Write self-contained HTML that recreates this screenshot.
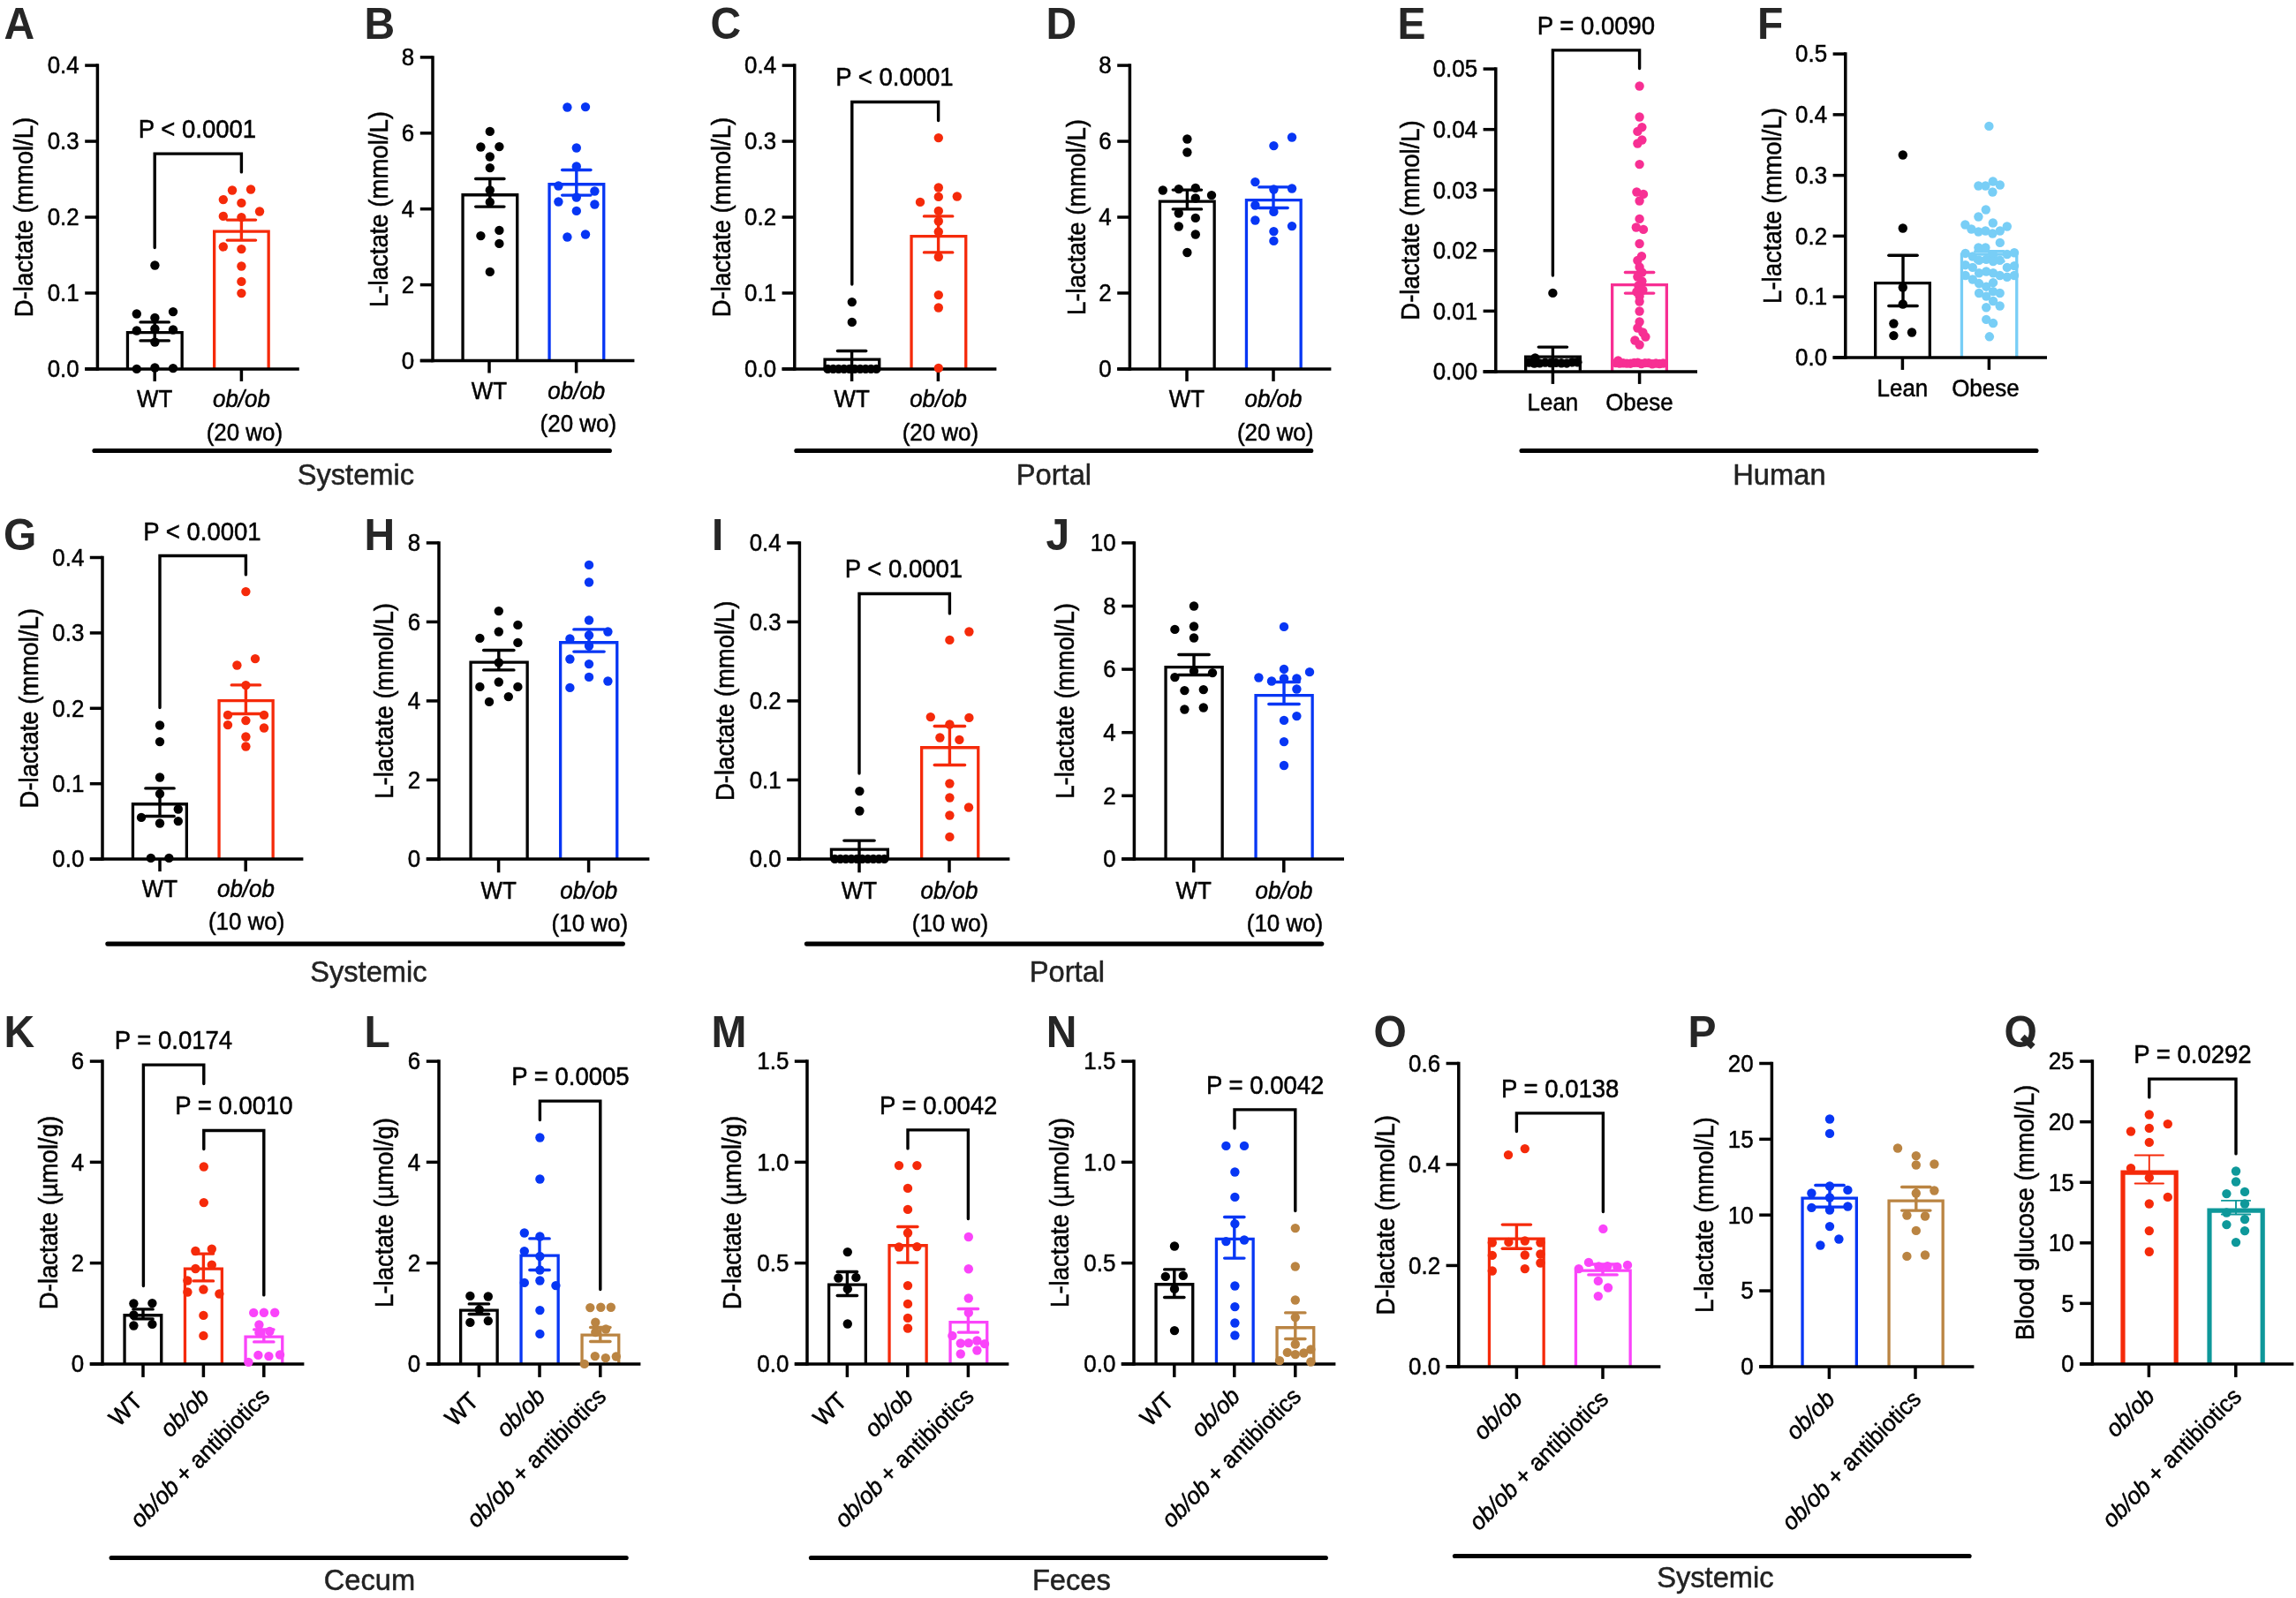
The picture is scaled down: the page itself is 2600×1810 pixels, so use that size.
<!DOCTYPE html>
<html><head><meta charset="utf-8"><title>Figure</title>
<style>
html,body{margin:0;padding:0;background:#fff}
svg{display:block;will-change:transform;opacity:0.999}
text{font-family:"Liberation Sans",sans-serif}
</style></head>
<body>
<svg xmlns="http://www.w3.org/2000/svg" width="2600" height="1810" viewBox="0 0 2600 1810">
<rect width="2600" height="1810" fill="#fff"/>
<g transform="translate(0.4 0.5)">
<path d="M144.05 417.4V376.05H205.75V417.4" fill="none" stroke="#000" stroke-width="3.3" stroke-linejoin="miter"/>
<path d="M242.25 417.4V261.65H303.75V417.4" fill="none" stroke="#F52A0A" stroke-width="3.3" stroke-linejoin="miter"/>
<line x1="110" y1="71.85" x2="110" y2="419.15" stroke="#000" stroke-width="3.5" stroke-linecap="butt"/>
<line x1="95.8" y1="417.4" x2="338.4" y2="417.4" stroke="#000" stroke-width="3.5" stroke-linecap="butt"/>
<line x1="95.8" y1="73.6" x2="110" y2="73.6" stroke="#000" stroke-width="3.5" stroke-linecap="butt"/>
<text transform="translate(89.3 82.9) scale(0.95 1)" font-size="27.3" text-anchor="end" fill="#000" stroke="#000" stroke-width="0.5">0.4</text>
<line x1="95.8" y1="159.55" x2="110" y2="159.55" stroke="#000" stroke-width="3.5" stroke-linecap="butt"/>
<text transform="translate(89.3 168.85) scale(0.95 1)" font-size="27.3" text-anchor="end" fill="#000" stroke="#000" stroke-width="0.5">0.3</text>
<line x1="95.8" y1="245.5" x2="110" y2="245.5" stroke="#000" stroke-width="3.5" stroke-linecap="butt"/>
<text transform="translate(89.3 254.8) scale(0.95 1)" font-size="27.3" text-anchor="end" fill="#000" stroke="#000" stroke-width="0.5">0.2</text>
<line x1="95.8" y1="331.45" x2="110" y2="331.45" stroke="#000" stroke-width="3.5" stroke-linecap="butt"/>
<text transform="translate(89.3 340.75) scale(0.95 1)" font-size="27.3" text-anchor="end" fill="#000" stroke="#000" stroke-width="0.5">0.1</text>
<line x1="95.8" y1="417.4" x2="110" y2="417.4" stroke="#000" stroke-width="3.5" stroke-linecap="butt"/>
<text transform="translate(89.3 426.7) scale(0.95 1)" font-size="27.3" text-anchor="end" fill="#000" stroke="#000" stroke-width="0.5">0.0</text>
<line x1="174.8" y1="417.4" x2="174.8" y2="431.4" stroke="#000" stroke-width="3.5" stroke-linecap="butt"/>
<line x1="273" y1="417.4" x2="273" y2="431.4" stroke="#000" stroke-width="3.5" stroke-linecap="butt"/>
<line x1="174.8" y1="364.4" x2="174.8" y2="385.4" stroke="#000" stroke-width="3.4" stroke-linecap="butt"/>
<line x1="158.65" y1="364.4" x2="190.95" y2="364.4" stroke="#000" stroke-width="3.4" stroke-linecap="round"/>
<line x1="158.65" y1="385.4" x2="190.95" y2="385.4" stroke="#000" stroke-width="3.4" stroke-linecap="round"/>
<line x1="273" y1="248.6" x2="273" y2="271.6" stroke="#F52A0A" stroke-width="3.4" stroke-linecap="butt"/>
<line x1="256.85" y1="248.6" x2="289.15" y2="248.6" stroke="#F52A0A" stroke-width="3.4" stroke-linecap="round"/>
<line x1="256.85" y1="271.6" x2="289.15" y2="271.6" stroke="#F52A0A" stroke-width="3.4" stroke-linecap="round"/>
<circle cx="175" cy="300" r="5.2" fill="#000"/>
<circle cx="154.4" cy="355" r="5.2" fill="#000"/>
<circle cx="195.6" cy="352.6" r="5.2" fill="#000"/>
<circle cx="175" cy="359.4" r="5.2" fill="#000"/>
<circle cx="154.4" cy="374" r="5.2" fill="#000"/>
<circle cx="175" cy="372" r="5.2" fill="#000"/>
<circle cx="195.6" cy="373" r="5.2" fill="#000"/>
<circle cx="175" cy="387" r="5.2" fill="#000"/>
<circle cx="154.4" cy="417.4" r="5.2" fill="#000"/>
<circle cx="175" cy="416" r="5.2" fill="#000"/>
<circle cx="195.6" cy="416.6" r="5.2" fill="#000"/>
<circle cx="262.6" cy="215" r="5.2" fill="#F52A0A"/>
<circle cx="283.6" cy="214" r="5.2" fill="#F52A0A"/>
<circle cx="252.4" cy="225.6" r="5.2" fill="#F52A0A"/>
<circle cx="273" cy="229.4" r="5.2" fill="#F52A0A"/>
<circle cx="293.6" cy="239" r="5.2" fill="#F52A0A"/>
<circle cx="252.4" cy="244.4" r="5.2" fill="#F52A0A"/>
<circle cx="273" cy="245.6" r="5.2" fill="#F52A0A"/>
<circle cx="252.4" cy="279" r="5.2" fill="#F52A0A"/>
<circle cx="273" cy="281.6" r="5.2" fill="#F52A0A"/>
<circle cx="273" cy="301" r="5.2" fill="#F52A0A"/>
<circle cx="273" cy="318.4" r="5.2" fill="#F52A0A"/>
<circle cx="273" cy="331.6" r="5.2" fill="#F52A0A"/>
<path d="M174.8 280V173.6H273V194.4" fill="none" stroke="#000" stroke-width="3.4" stroke-linejoin="miter" stroke-linecap="round"/>
<text transform="translate(223 155) scale(0.95 1)" font-size="29" text-anchor="middle" fill="#000" stroke="#000" stroke-width="0.5">P &lt; 0.0001</text>
<text transform="translate(37 245.5) rotate(-90) scale(0.95 1)" font-size="29" text-anchor="middle" fill="#000" stroke="#000" stroke-width="0.5">D-lactate (mmol/L)</text>
<text transform="translate(4 43.7) scale(0.96 1)" font-size="50" text-anchor="start" fill="#262626" font-weight="bold">A</text>
<text transform="translate(174.8 460.9) scale(0.95 1)" font-size="27.3" text-anchor="middle" fill="#000" stroke="#000" stroke-width="0.5">WT</text>
<text transform="translate(273 460.9) scale(0.95 1)" font-size="27.3" text-anchor="middle" fill="#000" stroke="#000" stroke-width="0.5" font-style="italic">ob/ob</text>
<text transform="translate(276.5 498.2) scale(0.95 1)" font-size="27.3" text-anchor="middle" fill="#000" stroke="#000" stroke-width="0.5">(20 wo)</text>
<path d="M523.65 408V220.25H585.35V408" fill="none" stroke="#000" stroke-width="3.3" stroke-linejoin="miter"/>
<path d="M621.65 408V208.25H683.35V408" fill="none" stroke="#0736F4" stroke-width="3.3" stroke-linejoin="miter"/>
<line x1="489.6" y1="62.65" x2="489.6" y2="409.75" stroke="#000" stroke-width="3.5" stroke-linecap="butt"/>
<line x1="475.4" y1="408" x2="718" y2="408" stroke="#000" stroke-width="3.5" stroke-linecap="butt"/>
<line x1="475.4" y1="64.4" x2="489.6" y2="64.4" stroke="#000" stroke-width="3.5" stroke-linecap="butt"/>
<text transform="translate(468.9 73.7) scale(0.95 1)" font-size="27.3" text-anchor="end" fill="#000" stroke="#000" stroke-width="0.5">8</text>
<line x1="475.4" y1="150.3" x2="489.6" y2="150.3" stroke="#000" stroke-width="3.5" stroke-linecap="butt"/>
<text transform="translate(468.9 159.6) scale(0.95 1)" font-size="27.3" text-anchor="end" fill="#000" stroke="#000" stroke-width="0.5">6</text>
<line x1="475.4" y1="236.2" x2="489.6" y2="236.2" stroke="#000" stroke-width="3.5" stroke-linecap="butt"/>
<text transform="translate(468.9 245.5) scale(0.95 1)" font-size="27.3" text-anchor="end" fill="#000" stroke="#000" stroke-width="0.5">4</text>
<line x1="475.4" y1="322.1" x2="489.6" y2="322.1" stroke="#000" stroke-width="3.5" stroke-linecap="butt"/>
<text transform="translate(468.9 331.4) scale(0.95 1)" font-size="27.3" text-anchor="end" fill="#000" stroke="#000" stroke-width="0.5">2</text>
<line x1="475.4" y1="408" x2="489.6" y2="408" stroke="#000" stroke-width="3.5" stroke-linecap="butt"/>
<text transform="translate(468.9 417.3) scale(0.95 1)" font-size="27.3" text-anchor="end" fill="#000" stroke="#000" stroke-width="0.5">0</text>
<line x1="553.6" y1="408" x2="553.6" y2="422" stroke="#000" stroke-width="3.5" stroke-linecap="butt"/>
<line x1="652.2" y1="408" x2="652.2" y2="422" stroke="#000" stroke-width="3.5" stroke-linecap="butt"/>
<line x1="554.4" y1="202" x2="554.4" y2="233.6" stroke="#000" stroke-width="3.4" stroke-linecap="butt"/>
<line x1="538.25" y1="202" x2="570.55" y2="202" stroke="#000" stroke-width="3.4" stroke-linecap="round"/>
<line x1="538.25" y1="233.6" x2="570.55" y2="233.6" stroke="#000" stroke-width="3.4" stroke-linecap="round"/>
<line x1="652.4" y1="192" x2="652.4" y2="220.6" stroke="#0736F4" stroke-width="3.4" stroke-linecap="butt"/>
<line x1="636.25" y1="192" x2="668.55" y2="192" stroke="#0736F4" stroke-width="3.4" stroke-linecap="round"/>
<line x1="636.25" y1="220.6" x2="668.55" y2="220.6" stroke="#0736F4" stroke-width="3.4" stroke-linecap="round"/>
<circle cx="554.4" cy="148.4" r="5.2" fill="#000"/>
<circle cx="544" cy="166" r="5.2" fill="#000"/>
<circle cx="565" cy="165.6" r="5.2" fill="#000"/>
<circle cx="554.4" cy="177" r="5.2" fill="#000"/>
<circle cx="554.4" cy="189.6" r="5.2" fill="#000"/>
<circle cx="554.4" cy="215" r="5.2" fill="#000"/>
<circle cx="554.4" cy="228.4" r="5.2" fill="#000"/>
<circle cx="565" cy="260.4" r="5.2" fill="#000"/>
<circle cx="544" cy="266.6" r="5.2" fill="#000"/>
<circle cx="565" cy="275.4" r="5.2" fill="#000"/>
<circle cx="554.4" cy="307.4" r="5.2" fill="#000"/>
<circle cx="642" cy="121" r="5.2" fill="#0736F4"/>
<circle cx="662.6" cy="120.6" r="5.2" fill="#0736F4"/>
<circle cx="652.4" cy="167" r="5.2" fill="#0736F4"/>
<circle cx="652.4" cy="188" r="5.2" fill="#0736F4"/>
<circle cx="632" cy="210" r="5.2" fill="#0736F4"/>
<circle cx="673" cy="216" r="5.2" fill="#0736F4"/>
<circle cx="652.4" cy="223" r="5.2" fill="#0736F4"/>
<circle cx="632" cy="228" r="5.2" fill="#0736F4"/>
<circle cx="673" cy="231" r="5.2" fill="#0736F4"/>
<circle cx="652.4" cy="238.4" r="5.2" fill="#0736F4"/>
<circle cx="662.6" cy="265" r="5.2" fill="#0736F4"/>
<circle cx="642" cy="268" r="5.2" fill="#0736F4"/>
<text transform="translate(439 236.5) rotate(-90) scale(0.95 1)" font-size="29" text-anchor="middle" fill="#000" stroke="#000" stroke-width="0.5">L-lactate (mmol/L)</text>
<text transform="translate(412 43.7) scale(0.96 1)" font-size="50" text-anchor="start" fill="#262626" font-weight="bold">B</text>
<text transform="translate(553.6 451.5) scale(0.95 1)" font-size="27.3" text-anchor="middle" fill="#000" stroke="#000" stroke-width="0.5">WT</text>
<text transform="translate(652.4 451.5) scale(0.95 1)" font-size="27.3" text-anchor="middle" fill="#000" stroke="#000" stroke-width="0.5" font-style="italic">ob/ob</text>
<text transform="translate(654.4 488.8) scale(0.95 1)" font-size="27.3" text-anchor="middle" fill="#000" stroke="#000" stroke-width="0.5">(20 wo)</text>
<line x1="106.5" y1="510" x2="690" y2="510" stroke="#000" stroke-width="5.1" stroke-linecap="round"/>
<text transform="translate(402.5 548.9) scale(0.99 1)" font-size="33" text-anchor="middle" fill="#222" stroke="#222" stroke-width="0.5">Systemic</text>
<path d="M933.65 417.4V406.65H995.35V417.4" fill="none" stroke="#000" stroke-width="3.3" stroke-linejoin="miter"/>
<path d="M1031.65 417.4V267.15H1093.35V417.4" fill="none" stroke="#F52A0A" stroke-width="3.3" stroke-linejoin="miter"/>
<line x1="899.4" y1="71.85" x2="899.4" y2="419.15" stroke="#000" stroke-width="3.5" stroke-linecap="butt"/>
<line x1="885.2" y1="417.4" x2="1128" y2="417.4" stroke="#000" stroke-width="3.5" stroke-linecap="butt"/>
<line x1="885.2" y1="73.6" x2="899.4" y2="73.6" stroke="#000" stroke-width="3.5" stroke-linecap="butt"/>
<text transform="translate(878.7 82.9) scale(0.95 1)" font-size="27.3" text-anchor="end" fill="#000" stroke="#000" stroke-width="0.5">0.4</text>
<line x1="885.2" y1="159.55" x2="899.4" y2="159.55" stroke="#000" stroke-width="3.5" stroke-linecap="butt"/>
<text transform="translate(878.7 168.85) scale(0.95 1)" font-size="27.3" text-anchor="end" fill="#000" stroke="#000" stroke-width="0.5">0.3</text>
<line x1="885.2" y1="245.5" x2="899.4" y2="245.5" stroke="#000" stroke-width="3.5" stroke-linecap="butt"/>
<text transform="translate(878.7 254.8) scale(0.95 1)" font-size="27.3" text-anchor="end" fill="#000" stroke="#000" stroke-width="0.5">0.2</text>
<line x1="885.2" y1="331.45" x2="899.4" y2="331.45" stroke="#000" stroke-width="3.5" stroke-linecap="butt"/>
<text transform="translate(878.7 340.75) scale(0.95 1)" font-size="27.3" text-anchor="end" fill="#000" stroke="#000" stroke-width="0.5">0.1</text>
<line x1="885.2" y1="417.4" x2="899.4" y2="417.4" stroke="#000" stroke-width="3.5" stroke-linecap="butt"/>
<text transform="translate(878.7 426.7) scale(0.95 1)" font-size="27.3" text-anchor="end" fill="#000" stroke="#000" stroke-width="0.5">0.0</text>
<line x1="964.2" y1="417.4" x2="964.2" y2="431.4" stroke="#000" stroke-width="3.5" stroke-linecap="butt"/>
<line x1="1062" y1="417.4" x2="1062" y2="431.4" stroke="#000" stroke-width="3.5" stroke-linecap="butt"/>
<line x1="964.2" y1="397" x2="964.2" y2="417.4" stroke="#000" stroke-width="3.4" stroke-linecap="butt"/>
<line x1="948.05" y1="397" x2="980.35" y2="397" stroke="#000" stroke-width="3.4" stroke-linecap="round"/>
<line x1="1062.2" y1="244.4" x2="1062.2" y2="285.4" stroke="#F52A0A" stroke-width="3.4" stroke-linecap="butt"/>
<line x1="1046.05" y1="244.4" x2="1078.35" y2="244.4" stroke="#F52A0A" stroke-width="3.4" stroke-linecap="round"/>
<line x1="1046.05" y1="285.4" x2="1078.35" y2="285.4" stroke="#F52A0A" stroke-width="3.4" stroke-linecap="round"/>
<circle cx="964.4" cy="341.6" r="5.2" fill="#000"/>
<circle cx="964.4" cy="364.4" r="5.2" fill="#000"/>
<circle cx="937" cy="417.4" r="5.2" fill="#000"/>
<circle cx="943.11" cy="417.4" r="5.2" fill="#000"/>
<circle cx="949.22" cy="417.4" r="5.2" fill="#000"/>
<circle cx="955.33" cy="417.4" r="5.2" fill="#000"/>
<circle cx="961.44" cy="417.4" r="5.2" fill="#000"/>
<circle cx="967.56" cy="417.4" r="5.2" fill="#000"/>
<circle cx="973.67" cy="417.4" r="5.2" fill="#000"/>
<circle cx="979.78" cy="417.4" r="5.2" fill="#000"/>
<circle cx="985.89" cy="417.4" r="5.2" fill="#000"/>
<circle cx="992" cy="417.4" r="5.2" fill="#000"/>
<circle cx="1062.4" cy="155.6" r="5.2" fill="#F52A0A"/>
<circle cx="1062.4" cy="212" r="5.2" fill="#F52A0A"/>
<circle cx="1062.4" cy="222.4" r="5.2" fill="#F52A0A"/>
<circle cx="1083.4" cy="222" r="5.2" fill="#F52A0A"/>
<circle cx="1041.6" cy="228.4" r="5.2" fill="#F52A0A"/>
<circle cx="1062.4" cy="238.4" r="5.2" fill="#F52A0A"/>
<circle cx="1062.4" cy="250" r="5.2" fill="#F52A0A"/>
<circle cx="1062.4" cy="262" r="5.2" fill="#F52A0A"/>
<circle cx="1062.4" cy="290.5" r="5.2" fill="#F52A0A"/>
<circle cx="1062.4" cy="333.6" r="5.2" fill="#F52A0A"/>
<circle cx="1062.4" cy="348" r="5.2" fill="#F52A0A"/>
<circle cx="1062.4" cy="416.4" r="5.2" fill="#F52A0A"/>
<path d="M964.4 321.6V115H1062.2V136" fill="none" stroke="#000" stroke-width="3.4" stroke-linejoin="miter" stroke-linecap="round"/>
<text transform="translate(1012.5 96.4) scale(0.95 1)" font-size="29" text-anchor="middle" fill="#000" stroke="#000" stroke-width="0.5">P &lt; 0.0001</text>
<text transform="translate(826.5 245.5) rotate(-90) scale(0.95 1)" font-size="29" text-anchor="middle" fill="#000" stroke="#000" stroke-width="0.5">D-lactate (mmol/L)</text>
<text transform="translate(804 43.7) scale(0.96 1)" font-size="50" text-anchor="start" fill="#262626" font-weight="bold">C</text>
<text transform="translate(964.2 460.9) scale(0.95 1)" font-size="27.3" text-anchor="middle" fill="#000" stroke="#000" stroke-width="0.5">WT</text>
<text transform="translate(1062.2 460.9) scale(0.95 1)" font-size="27.3" text-anchor="middle" fill="#000" stroke="#000" stroke-width="0.5" font-style="italic">ob/ob</text>
<text transform="translate(1064.5 498.2) scale(0.95 1)" font-size="27.3" text-anchor="middle" fill="#000" stroke="#000" stroke-width="0.5">(20 wo)</text>
<path d="M1313.05 417.4V227.65H1374.75V417.4" fill="none" stroke="#000" stroke-width="3.3" stroke-linejoin="miter"/>
<path d="M1411.05 417.4V226.05H1472.75V417.4" fill="none" stroke="#0736F4" stroke-width="3.3" stroke-linejoin="miter"/>
<line x1="1279" y1="71.85" x2="1279" y2="419.15" stroke="#000" stroke-width="3.5" stroke-linecap="butt"/>
<line x1="1264.8" y1="417.4" x2="1507" y2="417.4" stroke="#000" stroke-width="3.5" stroke-linecap="butt"/>
<line x1="1264.8" y1="73.6" x2="1279" y2="73.6" stroke="#000" stroke-width="3.5" stroke-linecap="butt"/>
<text transform="translate(1258.3 82.9) scale(0.95 1)" font-size="27.3" text-anchor="end" fill="#000" stroke="#000" stroke-width="0.5">8</text>
<line x1="1264.8" y1="159.55" x2="1279" y2="159.55" stroke="#000" stroke-width="3.5" stroke-linecap="butt"/>
<text transform="translate(1258.3 168.85) scale(0.95 1)" font-size="27.3" text-anchor="end" fill="#000" stroke="#000" stroke-width="0.5">6</text>
<line x1="1264.8" y1="245.5" x2="1279" y2="245.5" stroke="#000" stroke-width="3.5" stroke-linecap="butt"/>
<text transform="translate(1258.3 254.8) scale(0.95 1)" font-size="27.3" text-anchor="end" fill="#000" stroke="#000" stroke-width="0.5">4</text>
<line x1="1264.8" y1="331.45" x2="1279" y2="331.45" stroke="#000" stroke-width="3.5" stroke-linecap="butt"/>
<text transform="translate(1258.3 340.75) scale(0.95 1)" font-size="27.3" text-anchor="end" fill="#000" stroke="#000" stroke-width="0.5">2</text>
<line x1="1264.8" y1="417.4" x2="1279" y2="417.4" stroke="#000" stroke-width="3.5" stroke-linecap="butt"/>
<text transform="translate(1258.3 426.7) scale(0.95 1)" font-size="27.3" text-anchor="end" fill="#000" stroke="#000" stroke-width="0.5">0</text>
<line x1="1343.6" y1="417.4" x2="1343.6" y2="431.4" stroke="#000" stroke-width="3.5" stroke-linecap="butt"/>
<line x1="1441.6" y1="417.4" x2="1441.6" y2="431.4" stroke="#000" stroke-width="3.5" stroke-linecap="butt"/>
<line x1="1344" y1="214.6" x2="1344" y2="236.4" stroke="#000" stroke-width="3.4" stroke-linecap="butt"/>
<line x1="1327.85" y1="214.6" x2="1360.15" y2="214.6" stroke="#000" stroke-width="3.4" stroke-linecap="round"/>
<line x1="1327.85" y1="236.4" x2="1360.15" y2="236.4" stroke="#000" stroke-width="3.4" stroke-linecap="round"/>
<line x1="1441.6" y1="211.4" x2="1441.6" y2="235" stroke="#0736F4" stroke-width="3.4" stroke-linecap="butt"/>
<line x1="1425.45" y1="211.4" x2="1457.75" y2="211.4" stroke="#0736F4" stroke-width="3.4" stroke-linecap="round"/>
<line x1="1425.45" y1="235" x2="1457.75" y2="235" stroke="#0736F4" stroke-width="3.4" stroke-linecap="round"/>
<circle cx="1344" cy="157" r="5.2" fill="#000"/>
<circle cx="1344" cy="172" r="5.2" fill="#000"/>
<circle cx="1316.4" cy="215" r="5.2" fill="#000"/>
<circle cx="1334.4" cy="213.6" r="5.2" fill="#000"/>
<circle cx="1353.4" cy="212.4" r="5.2" fill="#000"/>
<circle cx="1371.6" cy="220.6" r="5.2" fill="#000"/>
<circle cx="1353.4" cy="224" r="5.2" fill="#000"/>
<circle cx="1334.4" cy="241" r="5.2" fill="#000"/>
<circle cx="1353.4" cy="246.4" r="5.2" fill="#000"/>
<circle cx="1334.4" cy="256" r="5.2" fill="#000"/>
<circle cx="1353.4" cy="265" r="5.2" fill="#000"/>
<circle cx="1344" cy="285.5" r="5.2" fill="#000"/>
<circle cx="1462.6" cy="155" r="5.2" fill="#0736F4"/>
<circle cx="1442" cy="164.6" r="5.2" fill="#0736F4"/>
<circle cx="1421" cy="205.6" r="5.2" fill="#0736F4"/>
<circle cx="1442" cy="214" r="5.2" fill="#0736F4"/>
<circle cx="1462.6" cy="213" r="5.2" fill="#0736F4"/>
<circle cx="1421" cy="232" r="5.2" fill="#0736F4"/>
<circle cx="1442" cy="239.4" r="5.2" fill="#0736F4"/>
<circle cx="1421" cy="249" r="5.2" fill="#0736F4"/>
<circle cx="1462.6" cy="255.6" r="5.2" fill="#0736F4"/>
<circle cx="1442" cy="261.6" r="5.2" fill="#0736F4"/>
<circle cx="1442" cy="272.4" r="5.2" fill="#0736F4"/>
<text transform="translate(1229 245.5) rotate(-90) scale(0.95 1)" font-size="29" text-anchor="middle" fill="#000" stroke="#000" stroke-width="0.5">L-lactate (mmol/L)</text>
<text transform="translate(1184 43.7) scale(0.96 1)" font-size="50" text-anchor="start" fill="#262626" font-weight="bold">D</text>
<text transform="translate(1343.6 460.9) scale(0.95 1)" font-size="27.3" text-anchor="middle" fill="#000" stroke="#000" stroke-width="0.5">WT</text>
<text transform="translate(1441.6 460.9) scale(0.95 1)" font-size="27.3" text-anchor="middle" fill="#000" stroke="#000" stroke-width="0.5" font-style="italic">ob/ob</text>
<text transform="translate(1443.8 498.2) scale(0.95 1)" font-size="27.3" text-anchor="middle" fill="#000" stroke="#000" stroke-width="0.5">(20 wo)</text>
<line x1="901.4" y1="510" x2="1484.4" y2="510" stroke="#000" stroke-width="5.1" stroke-linecap="round"/>
<text transform="translate(1193 548.9) scale(0.99 1)" font-size="33" text-anchor="middle" fill="#222" stroke="#222" stroke-width="0.5">Portal</text>
<path d="M1727.25 420.4V403.65H1788.95V420.4" fill="none" stroke="#000" stroke-width="3.3" stroke-linejoin="miter"/>
<path d="M1825.25 420.4V322.05H1886.95V420.4" fill="none" stroke="#F72F93" stroke-width="3.3" stroke-linejoin="miter"/>
<line x1="1693.4" y1="75.85" x2="1693.4" y2="422.15" stroke="#000" stroke-width="3.5" stroke-linecap="butt"/>
<line x1="1679.2" y1="420.4" x2="1921.6" y2="420.4" stroke="#000" stroke-width="3.5" stroke-linecap="butt"/>
<line x1="1679.2" y1="77.6" x2="1693.4" y2="77.6" stroke="#000" stroke-width="3.5" stroke-linecap="butt"/>
<text transform="translate(1672.7 86.9) scale(0.95 1)" font-size="27.3" text-anchor="end" fill="#000" stroke="#000" stroke-width="0.5">0.05</text>
<line x1="1679.2" y1="146.16" x2="1693.4" y2="146.16" stroke="#000" stroke-width="3.5" stroke-linecap="butt"/>
<text transform="translate(1672.7 155.46) scale(0.95 1)" font-size="27.3" text-anchor="end" fill="#000" stroke="#000" stroke-width="0.5">0.04</text>
<line x1="1679.2" y1="214.72" x2="1693.4" y2="214.72" stroke="#000" stroke-width="3.5" stroke-linecap="butt"/>
<text transform="translate(1672.7 224.02) scale(0.95 1)" font-size="27.3" text-anchor="end" fill="#000" stroke="#000" stroke-width="0.5">0.03</text>
<line x1="1679.2" y1="283.28" x2="1693.4" y2="283.28" stroke="#000" stroke-width="3.5" stroke-linecap="butt"/>
<text transform="translate(1672.7 292.58) scale(0.95 1)" font-size="27.3" text-anchor="end" fill="#000" stroke="#000" stroke-width="0.5">0.02</text>
<line x1="1679.2" y1="351.84" x2="1693.4" y2="351.84" stroke="#000" stroke-width="3.5" stroke-linecap="butt"/>
<text transform="translate(1672.7 361.14) scale(0.95 1)" font-size="27.3" text-anchor="end" fill="#000" stroke="#000" stroke-width="0.5">0.01</text>
<line x1="1679.2" y1="420.4" x2="1693.4" y2="420.4" stroke="#000" stroke-width="3.5" stroke-linecap="butt"/>
<text transform="translate(1672.7 429.7) scale(0.95 1)" font-size="27.3" text-anchor="end" fill="#000" stroke="#000" stroke-width="0.5">0.00</text>
<line x1="1758" y1="420.4" x2="1758" y2="434.4" stroke="#000" stroke-width="3.5" stroke-linecap="butt"/>
<line x1="1856.2" y1="420.4" x2="1856.2" y2="434.4" stroke="#000" stroke-width="3.5" stroke-linecap="butt"/>
<line x1="1758" y1="392.6" x2="1758" y2="420.4" stroke="#000" stroke-width="3.4" stroke-linecap="butt"/>
<line x1="1741.85" y1="392.6" x2="1774.15" y2="392.6" stroke="#000" stroke-width="3.4" stroke-linecap="round"/>
<line x1="1856.2" y1="308" x2="1856.2" y2="331.6" stroke="#F72F93" stroke-width="3.4" stroke-linecap="butt"/>
<line x1="1840.05" y1="308" x2="1872.35" y2="308" stroke="#F72F93" stroke-width="3.4" stroke-linecap="round"/>
<line x1="1840.05" y1="331.6" x2="1872.35" y2="331.6" stroke="#F72F93" stroke-width="3.4" stroke-linecap="round"/>
<circle cx="1758" cy="331.4" r="5.2" fill="#000"/>
<circle cx="1738" cy="405" r="5.2" fill="#000"/>
<circle cx="1731" cy="409.95" r="5.2" fill="#000"/>
<circle cx="1737.11" cy="411.02" r="5.2" fill="#000"/>
<circle cx="1743.22" cy="410.9" r="5.2" fill="#000"/>
<circle cx="1749.33" cy="410.13" r="5.2" fill="#000"/>
<circle cx="1755.44" cy="410.49" r="5.2" fill="#000"/>
<circle cx="1761.56" cy="410.42" r="5.2" fill="#000"/>
<circle cx="1767.67" cy="410.73" r="5.2" fill="#000"/>
<circle cx="1773.78" cy="410.93" r="5.2" fill="#000"/>
<circle cx="1779.89" cy="409.89" r="5.2" fill="#000"/>
<circle cx="1786" cy="409.79" r="5.2" fill="#000"/>
<circle cx="1856.2" cy="97" r="5.2" fill="#F72F93"/>
<circle cx="1856.2" cy="132" r="5.2" fill="#F72F93"/>
<circle cx="1859" cy="143.6" r="5.2" fill="#F72F93"/>
<circle cx="1854" cy="148.4" r="5.2" fill="#F72F93"/>
<circle cx="1859" cy="158" r="5.2" fill="#F72F93"/>
<circle cx="1854" cy="162" r="5.2" fill="#F72F93"/>
<circle cx="1856.2" cy="185.6" r="5.2" fill="#F72F93"/>
<circle cx="1853" cy="217" r="5.2" fill="#F72F93"/>
<circle cx="1860.6" cy="219.4" r="5.2" fill="#F72F93"/>
<circle cx="1856.2" cy="227" r="5.2" fill="#F72F93"/>
<circle cx="1856.2" cy="247.4" r="5.2" fill="#F72F93"/>
<circle cx="1852.4" cy="257" r="5.2" fill="#F72F93"/>
<circle cx="1860.6" cy="259.4" r="5.2" fill="#F72F93"/>
<circle cx="1856.2" cy="275.5" r="5.2" fill="#F72F93"/>
<circle cx="1858.6" cy="289.6" r="5.2" fill="#F72F93"/>
<circle cx="1854" cy="294.5" r="5.2" fill="#F72F93"/>
<circle cx="1856.2" cy="302" r="5.2" fill="#F72F93"/>
<circle cx="1859" cy="308" r="5.2" fill="#F72F93"/>
<circle cx="1854" cy="313" r="5.2" fill="#F72F93"/>
<circle cx="1859" cy="318" r="5.2" fill="#F72F93"/>
<circle cx="1855" cy="323" r="5.2" fill="#F72F93"/>
<circle cx="1860" cy="328" r="5.2" fill="#F72F93"/>
<circle cx="1853" cy="330" r="5.2" fill="#F72F93"/>
<circle cx="1856.2" cy="335" r="5.2" fill="#F72F93"/>
<circle cx="1856.2" cy="341" r="5.2" fill="#F72F93"/>
<circle cx="1856.2" cy="352" r="5.2" fill="#F72F93"/>
<circle cx="1856.2" cy="364" r="5.2" fill="#F72F93"/>
<circle cx="1854" cy="371" r="5.2" fill="#F72F93"/>
<circle cx="1860" cy="376" r="5.2" fill="#F72F93"/>
<circle cx="1863" cy="381" r="5.2" fill="#F72F93"/>
<circle cx="1851" cy="385" r="5.2" fill="#F72F93"/>
<circle cx="1856.2" cy="390" r="5.2" fill="#F72F93"/>
<circle cx="1832" cy="408" r="5.2" fill="#F72F93"/>
<circle cx="1829.5" cy="410.61" r="5.2" fill="#F72F93"/>
<circle cx="1833.62" cy="411.07" r="5.2" fill="#F72F93"/>
<circle cx="1837.73" cy="410.8" r="5.2" fill="#F72F93"/>
<circle cx="1841.85" cy="411.16" r="5.2" fill="#F72F93"/>
<circle cx="1845.96" cy="411.19" r="5.2" fill="#F72F93"/>
<circle cx="1850.08" cy="410.35" r="5.2" fill="#F72F93"/>
<circle cx="1854.19" cy="410.27" r="5.2" fill="#F72F93"/>
<circle cx="1858.31" cy="411.51" r="5.2" fill="#F72F93"/>
<circle cx="1862.42" cy="410.64" r="5.2" fill="#F72F93"/>
<circle cx="1866.54" cy="410.6" r="5.2" fill="#F72F93"/>
<circle cx="1870.65" cy="411.74" r="5.2" fill="#F72F93"/>
<circle cx="1874.77" cy="410.96" r="5.2" fill="#F72F93"/>
<circle cx="1878.88" cy="411.5" r="5.2" fill="#F72F93"/>
<circle cx="1883" cy="410.96" r="5.2" fill="#F72F93"/>
<path d="M1758 311.5V56.4H1856.2V77" fill="none" stroke="#000" stroke-width="3.4" stroke-linejoin="miter" stroke-linecap="round"/>
<text transform="translate(1807 38) scale(0.95 1)" font-size="29" text-anchor="middle" fill="#000" stroke="#000" stroke-width="0.5">P = 0.0090</text>
<text transform="translate(1606.4 249) rotate(-90) scale(0.95 1)" font-size="29" text-anchor="middle" fill="#000" stroke="#000" stroke-width="0.5">D-lactate (mmol/L)</text>
<text transform="translate(1582 43.7) scale(0.96 1)" font-size="50" text-anchor="start" fill="#262626" font-weight="bold">E</text>
<text transform="translate(1758 464) scale(0.95 1)" font-size="27.3" text-anchor="middle" fill="#000" stroke="#000" stroke-width="0.5">Lean</text>
<text transform="translate(1856 464) scale(0.95 1)" font-size="27.3" text-anchor="middle" fill="#000" stroke="#000" stroke-width="0.5">Obese</text>
<path d="M2123.25 404.4V320.05H2184.95V404.4" fill="none" stroke="#000" stroke-width="3.3" stroke-linejoin="miter"/>
<path d="M2221.05 404.4V287.65H2283.35V404.4" fill="none" stroke="#78CEF6" stroke-width="3.3" stroke-linejoin="miter"/>
<line x1="2089.4" y1="58.85" x2="2089.4" y2="406.15" stroke="#000" stroke-width="3.5" stroke-linecap="butt"/>
<line x1="2075.2" y1="404.4" x2="2317.6" y2="404.4" stroke="#000" stroke-width="3.5" stroke-linecap="butt"/>
<line x1="2075.2" y1="60.6" x2="2089.4" y2="60.6" stroke="#000" stroke-width="3.5" stroke-linecap="butt"/>
<text transform="translate(2068.7 69.9) scale(0.95 1)" font-size="27.3" text-anchor="end" fill="#000" stroke="#000" stroke-width="0.5">0.5</text>
<line x1="2075.2" y1="129.36" x2="2089.4" y2="129.36" stroke="#000" stroke-width="3.5" stroke-linecap="butt"/>
<text transform="translate(2068.7 138.66) scale(0.95 1)" font-size="27.3" text-anchor="end" fill="#000" stroke="#000" stroke-width="0.5">0.4</text>
<line x1="2075.2" y1="198.12" x2="2089.4" y2="198.12" stroke="#000" stroke-width="3.5" stroke-linecap="butt"/>
<text transform="translate(2068.7 207.42) scale(0.95 1)" font-size="27.3" text-anchor="end" fill="#000" stroke="#000" stroke-width="0.5">0.3</text>
<line x1="2075.2" y1="266.88" x2="2089.4" y2="266.88" stroke="#000" stroke-width="3.5" stroke-linecap="butt"/>
<text transform="translate(2068.7 276.18) scale(0.95 1)" font-size="27.3" text-anchor="end" fill="#000" stroke="#000" stroke-width="0.5">0.2</text>
<line x1="2075.2" y1="335.64" x2="2089.4" y2="335.64" stroke="#000" stroke-width="3.5" stroke-linecap="butt"/>
<text transform="translate(2068.7 344.94) scale(0.95 1)" font-size="27.3" text-anchor="end" fill="#000" stroke="#000" stroke-width="0.5">0.1</text>
<line x1="2075.2" y1="404.4" x2="2089.4" y2="404.4" stroke="#000" stroke-width="3.5" stroke-linecap="butt"/>
<text transform="translate(2068.7 413.7) scale(0.95 1)" font-size="27.3" text-anchor="end" fill="#000" stroke="#000" stroke-width="0.5">0.0</text>
<line x1="2154" y1="404.4" x2="2154" y2="418.4" stroke="#000" stroke-width="3.5" stroke-linecap="butt"/>
<line x1="2252" y1="404.4" x2="2252" y2="418.4" stroke="#000" stroke-width="3.5" stroke-linecap="butt"/>
<line x1="2154.6" y1="288.8" x2="2154.6" y2="346" stroke="#000" stroke-width="3.4" stroke-linecap="butt"/>
<line x1="2138.45" y1="288.8" x2="2170.75" y2="288.8" stroke="#000" stroke-width="3.4" stroke-linecap="round"/>
<line x1="2138.45" y1="346" x2="2170.75" y2="346" stroke="#000" stroke-width="3.4" stroke-linecap="round"/>
<line x1="2252.5" y1="284.3" x2="2252.5" y2="295.5" stroke="#78CEF6" stroke-width="3.4" stroke-linecap="butt"/>
<line x1="2236.35" y1="284.3" x2="2268.65" y2="284.3" stroke="#78CEF6" stroke-width="3.4" stroke-linecap="round"/>
<line x1="2236.35" y1="295.5" x2="2268.65" y2="295.5" stroke="#78CEF6" stroke-width="3.4" stroke-linecap="round"/>
<circle cx="2252" cy="142.4" r="5.2" fill="#78CEF6"/>
<circle cx="2240" cy="210" r="5.2" fill="#78CEF6"/>
<circle cx="2248" cy="210" r="5.2" fill="#78CEF6"/>
<circle cx="2256.4" cy="205" r="5.2" fill="#78CEF6"/>
<circle cx="2264.4" cy="209" r="5.2" fill="#78CEF6"/>
<circle cx="2256" cy="217" r="5.2" fill="#78CEF6"/>
<circle cx="2248.4" cy="237" r="5.2" fill="#78CEF6"/>
<circle cx="2240" cy="245" r="5.2" fill="#78CEF6"/>
<circle cx="2256.4" cy="252" r="5.2" fill="#78CEF6"/>
<circle cx="2225" cy="254" r="5.2" fill="#78CEF6"/>
<circle cx="2272.4" cy="256" r="5.2" fill="#78CEF6"/>
<circle cx="2232" cy="259" r="5.2" fill="#78CEF6"/>
<circle cx="2240" cy="262" r="5.2" fill="#78CEF6"/>
<circle cx="2248" cy="261" r="5.2" fill="#78CEF6"/>
<circle cx="2256" cy="264" r="5.2" fill="#78CEF6"/>
<circle cx="2264.4" cy="261" r="5.2" fill="#78CEF6"/>
<circle cx="2264.4" cy="274.4" r="5.2" fill="#78CEF6"/>
<circle cx="2240" cy="280" r="5.2" fill="#78CEF6"/>
<circle cx="2248" cy="280" r="5.2" fill="#78CEF6"/>
<circle cx="2225.25" cy="286.44" r="5.2" fill="#78CEF6"/>
<circle cx="2233.41" cy="290.07" r="5.2" fill="#78CEF6"/>
<circle cx="2256.64" cy="288.26" r="5.2" fill="#78CEF6"/>
<circle cx="2272.43" cy="287.53" r="5.2" fill="#78CEF6"/>
<circle cx="2280.6" cy="285.72" r="5.2" fill="#78CEF6"/>
<circle cx="2225.25" cy="299.69" r="5.2" fill="#78CEF6"/>
<circle cx="2233.41" cy="302.41" r="5.2" fill="#78CEF6"/>
<circle cx="2240.67" cy="294.25" r="5.2" fill="#78CEF6"/>
<circle cx="2248.84" cy="293.34" r="5.2" fill="#78CEF6"/>
<circle cx="2256.64" cy="295.52" r="5.2" fill="#78CEF6"/>
<circle cx="2264.26" cy="294.25" r="5.2" fill="#78CEF6"/>
<circle cx="2272.43" cy="302.41" r="5.2" fill="#78CEF6"/>
<circle cx="2280.6" cy="300.6" r="5.2" fill="#78CEF6"/>
<circle cx="2225.25" cy="311.49" r="5.2" fill="#78CEF6"/>
<circle cx="2233.41" cy="316.03" r="5.2" fill="#78CEF6"/>
<circle cx="2240.67" cy="308.77" r="5.2" fill="#78CEF6"/>
<circle cx="2248.84" cy="306.95" r="5.2" fill="#78CEF6"/>
<circle cx="2256.64" cy="308.77" r="5.2" fill="#78CEF6"/>
<circle cx="2264.26" cy="311.49" r="5.2" fill="#78CEF6"/>
<circle cx="2272.43" cy="313.3" r="5.2" fill="#78CEF6"/>
<circle cx="2280.6" cy="311.49" r="5.2" fill="#78CEF6"/>
<circle cx="2240.67" cy="320.56" r="5.2" fill="#78CEF6"/>
<circle cx="2248.84" cy="324.19" r="5.2" fill="#78CEF6"/>
<circle cx="2256.64" cy="319.66" r="5.2" fill="#78CEF6"/>
<circle cx="2240.67" cy="331.45" r="5.2" fill="#78CEF6"/>
<circle cx="2248.84" cy="335.08" r="5.2" fill="#78CEF6"/>
<circle cx="2256.64" cy="329.64" r="5.2" fill="#78CEF6"/>
<circle cx="2264.26" cy="331.45" r="5.2" fill="#78CEF6"/>
<circle cx="2256.64" cy="340.53" r="5.2" fill="#78CEF6"/>
<circle cx="2248.84" cy="347.79" r="5.2" fill="#78CEF6"/>
<circle cx="2264.26" cy="345.97" r="5.2" fill="#78CEF6"/>
<circle cx="2248.84" cy="361.4" r="5.2" fill="#78CEF6"/>
<circle cx="2256.64" cy="365.57" r="5.2" fill="#78CEF6"/>
<circle cx="2252.47" cy="380.82" r="5.2" fill="#78CEF6"/>
<circle cx="2154.4" cy="175" r="5.2" fill="#000"/>
<circle cx="2154.4" cy="258" r="5.2" fill="#000"/>
<circle cx="2154.4" cy="325" r="5.2" fill="#000"/>
<circle cx="2154.4" cy="344" r="5.2" fill="#000"/>
<circle cx="2144" cy="366" r="5.2" fill="#000"/>
<circle cx="2144" cy="379.6" r="5.2" fill="#000"/>
<circle cx="2164.6" cy="376" r="5.2" fill="#000"/>
<text transform="translate(2017 232.5) rotate(-90) scale(0.95 1)" font-size="29" text-anchor="middle" fill="#000" stroke="#000" stroke-width="0.5">L-lactate (mmol/L)</text>
<text transform="translate(1989.5 43.7) scale(0.96 1)" font-size="50" text-anchor="start" fill="#262626" font-weight="bold">F</text>
<text transform="translate(2154 448) scale(0.95 1)" font-size="27.3" text-anchor="middle" fill="#000" stroke="#000" stroke-width="0.5">Lean</text>
<text transform="translate(2248 448) scale(0.95 1)" font-size="27.3" text-anchor="middle" fill="#000" stroke="#000" stroke-width="0.5">Obese</text>
<line x1="1722.6" y1="510" x2="2305.6" y2="510" stroke="#000" stroke-width="5.1" stroke-linecap="round"/>
<text transform="translate(2014.5 548.9) scale(0.99 1)" font-size="33" text-anchor="middle" fill="#222" stroke="#222" stroke-width="0.5">Human</text>
<path d="M150.05 972.6V910.25H210.95V972.6" fill="none" stroke="#000" stroke-width="3.3" stroke-linejoin="miter"/>
<path d="M247.65 972.6V793.05H308.75V972.6" fill="none" stroke="#F52A0A" stroke-width="3.3" stroke-linejoin="miter"/>
<line x1="115.6" y1="629.25" x2="115.6" y2="974.35" stroke="#000" stroke-width="3.5" stroke-linecap="butt"/>
<line x1="101.4" y1="972.6" x2="343" y2="972.6" stroke="#000" stroke-width="3.5" stroke-linecap="butt"/>
<line x1="101.4" y1="631" x2="115.6" y2="631" stroke="#000" stroke-width="3.5" stroke-linecap="butt"/>
<text transform="translate(94.9 640.3) scale(0.95 1)" font-size="27.3" text-anchor="end" fill="#000" stroke="#000" stroke-width="0.5">0.4</text>
<line x1="101.4" y1="716.4" x2="115.6" y2="716.4" stroke="#000" stroke-width="3.5" stroke-linecap="butt"/>
<text transform="translate(94.9 725.7) scale(0.95 1)" font-size="27.3" text-anchor="end" fill="#000" stroke="#000" stroke-width="0.5">0.3</text>
<line x1="101.4" y1="801.8" x2="115.6" y2="801.8" stroke="#000" stroke-width="3.5" stroke-linecap="butt"/>
<text transform="translate(94.9 811.1) scale(0.95 1)" font-size="27.3" text-anchor="end" fill="#000" stroke="#000" stroke-width="0.5">0.2</text>
<line x1="101.4" y1="887.2" x2="115.6" y2="887.2" stroke="#000" stroke-width="3.5" stroke-linecap="butt"/>
<text transform="translate(94.9 896.5) scale(0.95 1)" font-size="27.3" text-anchor="end" fill="#000" stroke="#000" stroke-width="0.5">0.1</text>
<line x1="101.4" y1="972.6" x2="115.6" y2="972.6" stroke="#000" stroke-width="3.5" stroke-linecap="butt"/>
<text transform="translate(94.9 981.9) scale(0.95 1)" font-size="27.3" text-anchor="end" fill="#000" stroke="#000" stroke-width="0.5">0.0</text>
<line x1="180.6" y1="972.6" x2="180.6" y2="986.6" stroke="#000" stroke-width="3.5" stroke-linecap="butt"/>
<line x1="277.8" y1="972.6" x2="277.8" y2="986.6" stroke="#000" stroke-width="3.5" stroke-linecap="butt"/>
<line x1="180.6" y1="892.4" x2="180.6" y2="924" stroke="#000" stroke-width="3.4" stroke-linecap="butt"/>
<line x1="164.45" y1="892.4" x2="196.75" y2="892.4" stroke="#000" stroke-width="3.4" stroke-linecap="round"/>
<line x1="164.45" y1="924" x2="196.75" y2="924" stroke="#000" stroke-width="3.4" stroke-linecap="round"/>
<line x1="278" y1="775.4" x2="278" y2="808" stroke="#F52A0A" stroke-width="3.4" stroke-linecap="butt"/>
<line x1="261.85" y1="775.4" x2="294.15" y2="775.4" stroke="#F52A0A" stroke-width="3.4" stroke-linecap="round"/>
<line x1="261.85" y1="808" x2="294.15" y2="808" stroke="#F52A0A" stroke-width="3.4" stroke-linecap="round"/>
<circle cx="180.6" cy="821" r="5.2" fill="#000"/>
<circle cx="180.6" cy="839.6" r="5.2" fill="#000"/>
<circle cx="180.6" cy="880" r="5.2" fill="#000"/>
<circle cx="180.6" cy="898.6" r="5.2" fill="#000"/>
<circle cx="201.4" cy="916" r="5.2" fill="#000"/>
<circle cx="159.6" cy="925.4" r="5.2" fill="#000"/>
<circle cx="180.6" cy="932" r="5.2" fill="#000"/>
<circle cx="201.4" cy="929.6" r="5.2" fill="#000"/>
<circle cx="170.4" cy="971.4" r="5.2" fill="#000"/>
<circle cx="191" cy="971.4" r="5.2" fill="#000"/>
<circle cx="278" cy="669.6" r="5.2" fill="#F52A0A"/>
<circle cx="288.6" cy="745.6" r="5.2" fill="#F52A0A"/>
<circle cx="268" cy="753" r="5.2" fill="#F52A0A"/>
<circle cx="278" cy="775.6" r="5.2" fill="#F52A0A"/>
<circle cx="257.6" cy="809.4" r="5.2" fill="#F52A0A"/>
<circle cx="298.6" cy="809.4" r="5.2" fill="#F52A0A"/>
<circle cx="278" cy="815.6" r="5.2" fill="#F52A0A"/>
<circle cx="257.6" cy="820.6" r="5.2" fill="#F52A0A"/>
<circle cx="298.6" cy="824" r="5.2" fill="#F52A0A"/>
<circle cx="278" cy="834" r="5.2" fill="#F52A0A"/>
<circle cx="278" cy="845" r="5.2" fill="#F52A0A"/>
<path d="M180.6 801V629H278V650.4" fill="none" stroke="#000" stroke-width="3.4" stroke-linejoin="miter" stroke-linecap="round"/>
<text transform="translate(228.5 611.6) scale(0.95 1)" font-size="29" text-anchor="middle" fill="#000" stroke="#000" stroke-width="0.5">P &lt; 0.0001</text>
<text transform="translate(43 801.8) rotate(-90) scale(0.95 1)" font-size="29" text-anchor="middle" fill="#000" stroke="#000" stroke-width="0.5">D-lactate (mmol/L)</text>
<text transform="translate(3.5 622.5) scale(0.96 1)" font-size="50" text-anchor="start" fill="#262626" font-weight="bold">G</text>
<text transform="translate(180.6 1015.6) scale(0.95 1)" font-size="27.3" text-anchor="middle" fill="#000" stroke="#000" stroke-width="0.5">WT</text>
<text transform="translate(278 1015.6) scale(0.95 1)" font-size="27.3" text-anchor="middle" fill="#000" stroke="#000" stroke-width="0.5" font-style="italic">ob/ob</text>
<text transform="translate(278.8 1052.4) scale(0.95 1)" font-size="27.3" text-anchor="middle" fill="#000" stroke="#000" stroke-width="0.5">(10 wo)</text>
<path d="M532.65 972.4V749.65H596.75V972.4" fill="none" stroke="#000" stroke-width="3.3" stroke-linejoin="miter"/>
<path d="M634.25 972.4V727.25H698.35V972.4" fill="none" stroke="#0736F4" stroke-width="3.3" stroke-linejoin="miter"/>
<line x1="496.6" y1="612.65" x2="496.6" y2="974.15" stroke="#000" stroke-width="3.5" stroke-linecap="butt"/>
<line x1="482.4" y1="972.4" x2="735" y2="972.4" stroke="#000" stroke-width="3.5" stroke-linecap="butt"/>
<line x1="482.4" y1="614.4" x2="496.6" y2="614.4" stroke="#000" stroke-width="3.5" stroke-linecap="butt"/>
<text transform="translate(475.9 623.7) scale(0.95 1)" font-size="27.3" text-anchor="end" fill="#000" stroke="#000" stroke-width="0.5">8</text>
<line x1="482.4" y1="703.9" x2="496.6" y2="703.9" stroke="#000" stroke-width="3.5" stroke-linecap="butt"/>
<text transform="translate(475.9 713.2) scale(0.95 1)" font-size="27.3" text-anchor="end" fill="#000" stroke="#000" stroke-width="0.5">6</text>
<line x1="482.4" y1="793.4" x2="496.6" y2="793.4" stroke="#000" stroke-width="3.5" stroke-linecap="butt"/>
<text transform="translate(475.9 802.7) scale(0.95 1)" font-size="27.3" text-anchor="end" fill="#000" stroke="#000" stroke-width="0.5">4</text>
<line x1="482.4" y1="882.9" x2="496.6" y2="882.9" stroke="#000" stroke-width="3.5" stroke-linecap="butt"/>
<text transform="translate(475.9 892.2) scale(0.95 1)" font-size="27.3" text-anchor="end" fill="#000" stroke="#000" stroke-width="0.5">2</text>
<line x1="482.4" y1="972.4" x2="496.6" y2="972.4" stroke="#000" stroke-width="3.5" stroke-linecap="butt"/>
<text transform="translate(475.9 981.7) scale(0.95 1)" font-size="27.3" text-anchor="end" fill="#000" stroke="#000" stroke-width="0.5">0</text>
<line x1="564.2" y1="972.4" x2="564.2" y2="987.8" stroke="#000" stroke-width="3.5" stroke-linecap="butt"/>
<line x1="666.2" y1="972.4" x2="666.2" y2="987.8" stroke="#000" stroke-width="3.5" stroke-linecap="butt"/>
<line x1="564.4" y1="736" x2="564.4" y2="758.4" stroke="#000" stroke-width="3.4" stroke-linecap="butt"/>
<line x1="547.25" y1="736" x2="581.55" y2="736" stroke="#000" stroke-width="3.4" stroke-linecap="round"/>
<line x1="547.25" y1="758.4" x2="581.55" y2="758.4" stroke="#000" stroke-width="3.4" stroke-linecap="round"/>
<line x1="666.6" y1="712.4" x2="666.6" y2="737.6" stroke="#0736F4" stroke-width="3.4" stroke-linecap="butt"/>
<line x1="649.45" y1="712.4" x2="683.75" y2="712.4" stroke="#0736F4" stroke-width="3.4" stroke-linecap="round"/>
<line x1="649.45" y1="737.6" x2="683.75" y2="737.6" stroke="#0736F4" stroke-width="3.4" stroke-linecap="round"/>
<circle cx="564.4" cy="691.6" r="5.2" fill="#000"/>
<circle cx="586" cy="707.4" r="5.2" fill="#000"/>
<circle cx="564.4" cy="715" r="5.2" fill="#000"/>
<circle cx="543" cy="722.4" r="5.2" fill="#000"/>
<circle cx="586" cy="727.4" r="5.2" fill="#000"/>
<circle cx="564.4" cy="750" r="5.2" fill="#000"/>
<circle cx="564.4" cy="772" r="5.2" fill="#000"/>
<circle cx="543" cy="777.4" r="5.2" fill="#000"/>
<circle cx="586" cy="777.4" r="5.2" fill="#000"/>
<circle cx="575.4" cy="788.6" r="5.2" fill="#000"/>
<circle cx="553.6" cy="794.4" r="5.2" fill="#000"/>
<circle cx="666.6" cy="639.4" r="5.2" fill="#0736F4"/>
<circle cx="666.6" cy="659" r="5.2" fill="#0736F4"/>
<circle cx="666.6" cy="702" r="5.2" fill="#0736F4"/>
<circle cx="688" cy="715" r="5.2" fill="#0736F4"/>
<circle cx="666.6" cy="719" r="5.2" fill="#0736F4"/>
<circle cx="645" cy="723" r="5.2" fill="#0736F4"/>
<circle cx="666.6" cy="731" r="5.2" fill="#0736F4"/>
<circle cx="645" cy="746" r="5.2" fill="#0736F4"/>
<circle cx="666.6" cy="751.6" r="5.2" fill="#0736F4"/>
<circle cx="666.6" cy="766.4" r="5.2" fill="#0736F4"/>
<circle cx="688" cy="771" r="5.2" fill="#0736F4"/>
<circle cx="645" cy="778.4" r="5.2" fill="#0736F4"/>
<text transform="translate(444.4 793.4) rotate(-90) scale(0.95 1)" font-size="29" text-anchor="middle" fill="#000" stroke="#000" stroke-width="0.5">L-lactate (mmol/L)</text>
<text transform="translate(412 622.5) scale(0.96 1)" font-size="50" text-anchor="start" fill="#262626" font-weight="bold">H</text>
<text transform="translate(564.2 1017.6) scale(0.95 1)" font-size="27.3" text-anchor="middle" fill="#000" stroke="#000" stroke-width="0.5">WT</text>
<text transform="translate(666.4 1017.6) scale(0.95 1)" font-size="27.3" text-anchor="middle" fill="#000" stroke="#000" stroke-width="0.5" font-style="italic">ob/ob</text>
<text transform="translate(667.4 1054.2) scale(0.95 1)" font-size="27.3" text-anchor="middle" fill="#000" stroke="#000" stroke-width="0.5">(10 wo)</text>
<line x1="121.4" y1="1068.6" x2="705" y2="1068.6" stroke="#000" stroke-width="5.1" stroke-linecap="round"/>
<text transform="translate(417 1111.1) scale(0.99 1)" font-size="33" text-anchor="middle" fill="#222" stroke="#222" stroke-width="0.5">Systemic</text>
<path d="M941.05 972.4V961.65H1004.95V972.4" fill="none" stroke="#000" stroke-width="3.3" stroke-linejoin="miter"/>
<path d="M1043.25 972.4V846.25H1107.35V972.4" fill="none" stroke="#F52A0A" stroke-width="3.3" stroke-linejoin="miter"/>
<line x1="905" y1="612.65" x2="905" y2="974.15" stroke="#000" stroke-width="3.5" stroke-linecap="butt"/>
<line x1="890.8" y1="972.4" x2="1143" y2="972.4" stroke="#000" stroke-width="3.5" stroke-linecap="butt"/>
<line x1="890.8" y1="614.4" x2="905" y2="614.4" stroke="#000" stroke-width="3.5" stroke-linecap="butt"/>
<text transform="translate(884.3 623.7) scale(0.95 1)" font-size="27.3" text-anchor="end" fill="#000" stroke="#000" stroke-width="0.5">0.4</text>
<line x1="890.8" y1="703.9" x2="905" y2="703.9" stroke="#000" stroke-width="3.5" stroke-linecap="butt"/>
<text transform="translate(884.3 713.2) scale(0.95 1)" font-size="27.3" text-anchor="end" fill="#000" stroke="#000" stroke-width="0.5">0.3</text>
<line x1="890.8" y1="793.4" x2="905" y2="793.4" stroke="#000" stroke-width="3.5" stroke-linecap="butt"/>
<text transform="translate(884.3 802.7) scale(0.95 1)" font-size="27.3" text-anchor="end" fill="#000" stroke="#000" stroke-width="0.5">0.2</text>
<line x1="890.8" y1="882.9" x2="905" y2="882.9" stroke="#000" stroke-width="3.5" stroke-linecap="butt"/>
<text transform="translate(884.3 892.2) scale(0.95 1)" font-size="27.3" text-anchor="end" fill="#000" stroke="#000" stroke-width="0.5">0.1</text>
<line x1="890.8" y1="972.4" x2="905" y2="972.4" stroke="#000" stroke-width="3.5" stroke-linecap="butt"/>
<text transform="translate(884.3 981.7) scale(0.95 1)" font-size="27.3" text-anchor="end" fill="#000" stroke="#000" stroke-width="0.5">0.0</text>
<line x1="972.6" y1="972.4" x2="972.6" y2="987.8" stroke="#000" stroke-width="3.5" stroke-linecap="butt"/>
<line x1="1074.6" y1="972.4" x2="1074.6" y2="987.8" stroke="#000" stroke-width="3.5" stroke-linecap="butt"/>
<line x1="972.6" y1="951.6" x2="972.6" y2="972.4" stroke="#000" stroke-width="3.4" stroke-linecap="butt"/>
<line x1="955.45" y1="951.6" x2="989.75" y2="951.6" stroke="#000" stroke-width="3.4" stroke-linecap="round"/>
<line x1="1075" y1="822" x2="1075" y2="866" stroke="#F52A0A" stroke-width="3.4" stroke-linecap="butt"/>
<line x1="1057.85" y1="822" x2="1092.15" y2="822" stroke="#F52A0A" stroke-width="3.4" stroke-linecap="round"/>
<line x1="1057.85" y1="866" x2="1092.15" y2="866" stroke="#F52A0A" stroke-width="3.4" stroke-linecap="round"/>
<circle cx="973" cy="895.6" r="5.2" fill="#000"/>
<circle cx="973" cy="918" r="5.2" fill="#000"/>
<circle cx="945" cy="972.4" r="5.2" fill="#000"/>
<circle cx="951.22" cy="972.4" r="5.2" fill="#000"/>
<circle cx="957.44" cy="972.4" r="5.2" fill="#000"/>
<circle cx="963.67" cy="972.4" r="5.2" fill="#000"/>
<circle cx="969.89" cy="972.4" r="5.2" fill="#000"/>
<circle cx="976.11" cy="972.4" r="5.2" fill="#000"/>
<circle cx="982.33" cy="972.4" r="5.2" fill="#000"/>
<circle cx="988.56" cy="972.4" r="5.2" fill="#000"/>
<circle cx="994.78" cy="972.4" r="5.2" fill="#000"/>
<circle cx="1001" cy="972.4" r="5.2" fill="#000"/>
<circle cx="1097" cy="715" r="5.2" fill="#F52A0A"/>
<circle cx="1075" cy="724.4" r="5.2" fill="#F52A0A"/>
<circle cx="1053.4" cy="811.6" r="5.2" fill="#F52A0A"/>
<circle cx="1097" cy="812.4" r="5.2" fill="#F52A0A"/>
<circle cx="1075" cy="820" r="5.2" fill="#F52A0A"/>
<circle cx="1064" cy="835" r="5.2" fill="#F52A0A"/>
<circle cx="1086" cy="837.4" r="5.2" fill="#F52A0A"/>
<circle cx="1075" cy="887" r="5.2" fill="#F52A0A"/>
<circle cx="1075" cy="903" r="5.2" fill="#F52A0A"/>
<circle cx="1096.6" cy="914" r="5.2" fill="#F52A0A"/>
<circle cx="1075" cy="923" r="5.2" fill="#F52A0A"/>
<circle cx="1075" cy="947.4" r="5.2" fill="#F52A0A"/>
<path d="M972.6 875.6V672H1075V694.4" fill="none" stroke="#000" stroke-width="3.4" stroke-linejoin="miter" stroke-linecap="round"/>
<text transform="translate(1023 653) scale(0.95 1)" font-size="29" text-anchor="middle" fill="#000" stroke="#000" stroke-width="0.5">P &lt; 0.0001</text>
<text transform="translate(830.5 793.4) rotate(-90) scale(0.95 1)" font-size="29" text-anchor="middle" fill="#000" stroke="#000" stroke-width="0.5">D-lactate (mmol/L)</text>
<text transform="translate(805.6 622.5) scale(0.96 1)" font-size="50" text-anchor="start" fill="#262626" font-weight="bold">I</text>
<text transform="translate(972.6 1017.6) scale(0.95 1)" font-size="27.3" text-anchor="middle" fill="#000" stroke="#000" stroke-width="0.5">WT</text>
<text transform="translate(1074.6 1017.6) scale(0.95 1)" font-size="27.3" text-anchor="middle" fill="#000" stroke="#000" stroke-width="0.5" font-style="italic">ob/ob</text>
<text transform="translate(1075.6 1054.2) scale(0.95 1)" font-size="27.3" text-anchor="middle" fill="#000" stroke="#000" stroke-width="0.5">(10 wo)</text>
<path d="M1319.65 972.4V755.05H1383.75V972.4" fill="none" stroke="#000" stroke-width="3.3" stroke-linejoin="miter"/>
<path d="M1421.65 972.4V787.05H1485.75V972.4" fill="none" stroke="#0736F4" stroke-width="3.3" stroke-linejoin="miter"/>
<line x1="1284" y1="612.65" x2="1284" y2="974.15" stroke="#000" stroke-width="3.5" stroke-linecap="butt"/>
<line x1="1269.8" y1="972.4" x2="1521.6" y2="972.4" stroke="#000" stroke-width="3.5" stroke-linecap="butt"/>
<line x1="1269.8" y1="614.4" x2="1284" y2="614.4" stroke="#000" stroke-width="3.5" stroke-linecap="butt"/>
<text transform="translate(1263.3 623.7) scale(0.95 1)" font-size="27.3" text-anchor="end" fill="#000" stroke="#000" stroke-width="0.5">10</text>
<line x1="1269.8" y1="686" x2="1284" y2="686" stroke="#000" stroke-width="3.5" stroke-linecap="butt"/>
<text transform="translate(1263.3 695.3) scale(0.95 1)" font-size="27.3" text-anchor="end" fill="#000" stroke="#000" stroke-width="0.5">8</text>
<line x1="1269.8" y1="757.6" x2="1284" y2="757.6" stroke="#000" stroke-width="3.5" stroke-linecap="butt"/>
<text transform="translate(1263.3 766.9) scale(0.95 1)" font-size="27.3" text-anchor="end" fill="#000" stroke="#000" stroke-width="0.5">6</text>
<line x1="1269.8" y1="829.2" x2="1284" y2="829.2" stroke="#000" stroke-width="3.5" stroke-linecap="butt"/>
<text transform="translate(1263.3 838.5) scale(0.95 1)" font-size="27.3" text-anchor="end" fill="#000" stroke="#000" stroke-width="0.5">4</text>
<line x1="1269.8" y1="900.8" x2="1284" y2="900.8" stroke="#000" stroke-width="3.5" stroke-linecap="butt"/>
<text transform="translate(1263.3 910.1) scale(0.95 1)" font-size="27.3" text-anchor="end" fill="#000" stroke="#000" stroke-width="0.5">2</text>
<line x1="1269.8" y1="972.4" x2="1284" y2="972.4" stroke="#000" stroke-width="3.5" stroke-linecap="butt"/>
<text transform="translate(1263.3 981.7) scale(0.95 1)" font-size="27.3" text-anchor="end" fill="#000" stroke="#000" stroke-width="0.5">0</text>
<line x1="1351.4" y1="972.4" x2="1351.4" y2="987.8" stroke="#000" stroke-width="3.5" stroke-linecap="butt"/>
<line x1="1453.4" y1="972.4" x2="1453.4" y2="987.8" stroke="#000" stroke-width="3.5" stroke-linecap="butt"/>
<line x1="1351.6" y1="741" x2="1351.6" y2="764" stroke="#000" stroke-width="3.4" stroke-linecap="butt"/>
<line x1="1334.45" y1="741" x2="1368.75" y2="741" stroke="#000" stroke-width="3.4" stroke-linecap="round"/>
<line x1="1334.45" y1="764" x2="1368.75" y2="764" stroke="#000" stroke-width="3.4" stroke-linecap="round"/>
<line x1="1453.6" y1="772" x2="1453.6" y2="797" stroke="#0736F4" stroke-width="3.4" stroke-linecap="butt"/>
<line x1="1436.45" y1="772" x2="1470.75" y2="772" stroke="#0736F4" stroke-width="3.4" stroke-linecap="round"/>
<line x1="1436.45" y1="797" x2="1470.75" y2="797" stroke="#0736F4" stroke-width="3.4" stroke-linecap="round"/>
<circle cx="1351.6" cy="686" r="5.2" fill="#000"/>
<circle cx="1330" cy="712.4" r="5.2" fill="#000"/>
<circle cx="1351.6" cy="709" r="5.2" fill="#000"/>
<circle cx="1351.6" cy="722" r="5.2" fill="#000"/>
<circle cx="1351.6" cy="759.6" r="5.2" fill="#000"/>
<circle cx="1372.6" cy="761.6" r="5.2" fill="#000"/>
<circle cx="1330" cy="766.6" r="5.2" fill="#000"/>
<circle cx="1341" cy="781.6" r="5.2" fill="#000"/>
<circle cx="1362.4" cy="780.6" r="5.2" fill="#000"/>
<circle cx="1341" cy="803" r="5.2" fill="#000"/>
<circle cx="1362.4" cy="801" r="5.2" fill="#000"/>
<circle cx="1453.6" cy="709.4" r="5.2" fill="#0736F4"/>
<circle cx="1453.6" cy="757.4" r="5.2" fill="#0736F4"/>
<circle cx="1482.6" cy="760.6" r="5.2" fill="#0736F4"/>
<circle cx="1425" cy="767" r="5.2" fill="#0736F4"/>
<circle cx="1439.6" cy="771" r="5.2" fill="#0736F4"/>
<circle cx="1453.6" cy="768" r="5.2" fill="#0736F4"/>
<circle cx="1468" cy="768" r="5.2" fill="#0736F4"/>
<circle cx="1468" cy="780" r="5.2" fill="#0736F4"/>
<circle cx="1468" cy="810.6" r="5.2" fill="#0736F4"/>
<circle cx="1453.6" cy="815.4" r="5.2" fill="#0736F4"/>
<circle cx="1453.6" cy="839.6" r="5.2" fill="#0736F4"/>
<circle cx="1453.6" cy="866.5" r="5.2" fill="#0736F4"/>
<text transform="translate(1216 793.4) rotate(-90) scale(0.95 1)" font-size="29" text-anchor="middle" fill="#000" stroke="#000" stroke-width="0.5">L-lactate (mmol/L)</text>
<text transform="translate(1184 622.5) scale(0.96 1)" font-size="50" text-anchor="start" fill="#262626" font-weight="bold">J</text>
<text transform="translate(1351.2 1017.6) scale(0.95 1)" font-size="27.3" text-anchor="middle" fill="#000" stroke="#000" stroke-width="0.5">WT</text>
<text transform="translate(1453.6 1017.6) scale(0.95 1)" font-size="27.3" text-anchor="middle" fill="#000" stroke="#000" stroke-width="0.5" font-style="italic">ob/ob</text>
<text transform="translate(1454.6 1054.2) scale(0.95 1)" font-size="27.3" text-anchor="middle" fill="#000" stroke="#000" stroke-width="0.5">(10 wo)</text>
<line x1="913" y1="1068.6" x2="1496.4" y2="1068.6" stroke="#000" stroke-width="5.1" stroke-linecap="round"/>
<text transform="translate(1208 1111.1) scale(0.99 1)" font-size="33" text-anchor="middle" fill="#222" stroke="#222" stroke-width="0.5">Portal</text>
<path d="M140.65 1544.4V1489.25H182.35V1544.4" fill="none" stroke="#000" stroke-width="3.3" stroke-linejoin="miter"/>
<path d="M209.05 1544.4V1436.65H250.95V1544.4" fill="none" stroke="#F52A0A" stroke-width="3.3" stroke-linejoin="miter"/>
<path d="M277.65 1544.4V1513.65H319.35V1544.4" fill="none" stroke="#FA44FA" stroke-width="3.3" stroke-linejoin="miter"/>
<line x1="115.6" y1="1199.85" x2="115.6" y2="1546.15" stroke="#000" stroke-width="3.5" stroke-linecap="butt"/>
<line x1="101.4" y1="1544.4" x2="344" y2="1544.4" stroke="#000" stroke-width="3.5" stroke-linecap="butt"/>
<line x1="101.4" y1="1201.6" x2="115.6" y2="1201.6" stroke="#000" stroke-width="3.5" stroke-linecap="butt"/>
<text transform="translate(94.9 1210.9) scale(0.95 1)" font-size="27.3" text-anchor="end" fill="#000" stroke="#000" stroke-width="0.5">6</text>
<line x1="101.4" y1="1315.87" x2="115.6" y2="1315.87" stroke="#000" stroke-width="3.5" stroke-linecap="butt"/>
<text transform="translate(94.9 1325.17) scale(0.95 1)" font-size="27.3" text-anchor="end" fill="#000" stroke="#000" stroke-width="0.5">4</text>
<line x1="101.4" y1="1430.13" x2="115.6" y2="1430.13" stroke="#000" stroke-width="3.5" stroke-linecap="butt"/>
<text transform="translate(94.9 1439.43) scale(0.95 1)" font-size="27.3" text-anchor="end" fill="#000" stroke="#000" stroke-width="0.5">2</text>
<line x1="101.4" y1="1544.4" x2="115.6" y2="1544.4" stroke="#000" stroke-width="3.5" stroke-linecap="butt"/>
<text transform="translate(94.9 1553.7) scale(0.95 1)" font-size="27.3" text-anchor="end" fill="#000" stroke="#000" stroke-width="0.5">0</text>
<line x1="161.6" y1="1544.4" x2="161.6" y2="1559.4" stroke="#000" stroke-width="3.5" stroke-linecap="butt"/>
<line x1="230" y1="1544.4" x2="230" y2="1559.4" stroke="#000" stroke-width="3.5" stroke-linecap="butt"/>
<line x1="298.4" y1="1544.4" x2="298.4" y2="1559.4" stroke="#000" stroke-width="3.5" stroke-linecap="butt"/>
<line x1="161.6" y1="1482.4" x2="161.6" y2="1493.4" stroke="#000" stroke-width="3.4" stroke-linecap="butt"/>
<line x1="150.45" y1="1482.4" x2="172.75" y2="1482.4" stroke="#000" stroke-width="3.4" stroke-linecap="round"/>
<line x1="150.45" y1="1493.4" x2="172.75" y2="1493.4" stroke="#000" stroke-width="3.4" stroke-linecap="round"/>
<line x1="230" y1="1419.6" x2="230" y2="1450.4" stroke="#F52A0A" stroke-width="3.4" stroke-linecap="butt"/>
<line x1="218.85" y1="1419.6" x2="241.15" y2="1419.6" stroke="#F52A0A" stroke-width="3.4" stroke-linecap="round"/>
<line x1="218.85" y1="1450.4" x2="241.15" y2="1450.4" stroke="#F52A0A" stroke-width="3.4" stroke-linecap="round"/>
<line x1="298.4" y1="1505.4" x2="298.4" y2="1519.4" stroke="#FA44FA" stroke-width="3.4" stroke-linecap="butt"/>
<line x1="287.25" y1="1505.4" x2="309.55" y2="1505.4" stroke="#FA44FA" stroke-width="3.4" stroke-linecap="round"/>
<line x1="287.25" y1="1519.4" x2="309.55" y2="1519.4" stroke="#FA44FA" stroke-width="3.4" stroke-linecap="round"/>
<circle cx="151" cy="1476" r="5.2" fill="#000"/>
<circle cx="172" cy="1475.6" r="5.2" fill="#000"/>
<circle cx="151" cy="1489" r="5.2" fill="#000"/>
<circle cx="151" cy="1501" r="5.2" fill="#000"/>
<circle cx="172" cy="1499.4" r="5.2" fill="#000"/>
<circle cx="230.4" cy="1321" r="5.2" fill="#F52A0A"/>
<circle cx="230.4" cy="1361.6" r="5.2" fill="#F52A0A"/>
<circle cx="221" cy="1416.5" r="5.2" fill="#F52A0A"/>
<circle cx="239.4" cy="1414.2" r="5.2" fill="#F52A0A"/>
<circle cx="221" cy="1436.5" r="5.2" fill="#F52A0A"/>
<circle cx="239.4" cy="1432.2" r="5.2" fill="#F52A0A"/>
<circle cx="212" cy="1450" r="5.2" fill="#F52A0A"/>
<circle cx="212" cy="1463" r="5.2" fill="#F52A0A"/>
<circle cx="230" cy="1460" r="5.2" fill="#F52A0A"/>
<circle cx="248" cy="1465" r="5.2" fill="#F52A0A"/>
<circle cx="230" cy="1489.4" r="5.2" fill="#F52A0A"/>
<circle cx="230" cy="1512.4" r="5.2" fill="#F52A0A"/>
<circle cx="286.8" cy="1486.4" r="5.2" fill="#FA44FA"/>
<circle cx="298.5" cy="1486.2" r="5.2" fill="#FA44FA"/>
<circle cx="310.8" cy="1486.2" r="5.2" fill="#FA44FA"/>
<circle cx="293" cy="1500" r="5.2" fill="#FA44FA"/>
<circle cx="293" cy="1509" r="5.2" fill="#FA44FA"/>
<circle cx="305" cy="1507.5" r="5.2" fill="#FA44FA"/>
<circle cx="292" cy="1534.4" r="5.2" fill="#FA44FA"/>
<circle cx="304" cy="1535.6" r="5.2" fill="#FA44FA"/>
<circle cx="316.6" cy="1534" r="5.2" fill="#FA44FA"/>
<circle cx="281" cy="1542.4" r="5.2" fill="#FA44FA"/>
<path d="M162 1456V1205.6H230.4V1227" fill="none" stroke="#000" stroke-width="3.4" stroke-linejoin="miter" stroke-linecap="round"/>
<path d="M230.4 1301V1280H298.4V1466.4" fill="none" stroke="#000" stroke-width="3.4" stroke-linejoin="miter" stroke-linecap="round"/>
<text transform="translate(196 1187) scale(0.95 1)" font-size="29" text-anchor="middle" fill="#000" stroke="#000" stroke-width="0.5">P = 0.0174</text>
<text transform="translate(264.5 1261.6) scale(0.95 1)" font-size="29" text-anchor="middle" fill="#000" stroke="#000" stroke-width="0.5">P = 0.0010</text>
<text transform="translate(64.4 1373) rotate(-90) scale(0.95 1)" font-size="29" text-anchor="middle" fill="#000" stroke="#000" stroke-width="0.5">D-lactate (µmol/g)</text>
<text transform="translate(4 1185.5) scale(0.96 1)" font-size="50" text-anchor="start" fill="#262626" font-weight="bold">K</text>
<text transform="translate(162.6 1588.1) rotate(-45) scale(0.95 1)" font-size="27.3" text-anchor="end" fill="#000" stroke="#000" stroke-width="0.5">WT</text>
<text transform="translate(238 1582.9) rotate(-45) scale(0.95 1)" font-size="27.3" text-anchor="end" fill="#000" stroke="#000" stroke-width="0.5" font-style="italic">ob/ob</text>
<text transform="translate(306.4 1582.9) rotate(-45) scale(0.95 1)" font-size="27.3" text-anchor="end" fill="#000" stroke="#000" stroke-width="0.5"><tspan font-style="italic">ob/ob</tspan> + antibiotics</text>
<path d="M521.25 1544.4V1483.65H562.75V1544.4" fill="none" stroke="#000" stroke-width="3.3" stroke-linejoin="miter"/>
<path d="M589.65 1544.4V1421.65H631.75V1544.4" fill="none" stroke="#0736F4" stroke-width="3.3" stroke-linejoin="miter"/>
<path d="M658.65 1544.4V1511.65H700.35V1544.4" fill="none" stroke="#BA8442" stroke-width="3.3" stroke-linejoin="miter"/>
<line x1="496.6" y1="1199.85" x2="496.6" y2="1546.15" stroke="#000" stroke-width="3.5" stroke-linecap="butt"/>
<line x1="482.4" y1="1544.4" x2="725" y2="1544.4" stroke="#000" stroke-width="3.5" stroke-linecap="butt"/>
<line x1="482.4" y1="1201.6" x2="496.6" y2="1201.6" stroke="#000" stroke-width="3.5" stroke-linecap="butt"/>
<text transform="translate(475.9 1210.9) scale(0.95 1)" font-size="27.3" text-anchor="end" fill="#000" stroke="#000" stroke-width="0.5">6</text>
<line x1="482.4" y1="1315.87" x2="496.6" y2="1315.87" stroke="#000" stroke-width="3.5" stroke-linecap="butt"/>
<text transform="translate(475.9 1325.17) scale(0.95 1)" font-size="27.3" text-anchor="end" fill="#000" stroke="#000" stroke-width="0.5">4</text>
<line x1="482.4" y1="1430.13" x2="496.6" y2="1430.13" stroke="#000" stroke-width="3.5" stroke-linecap="butt"/>
<text transform="translate(475.9 1439.43) scale(0.95 1)" font-size="27.3" text-anchor="end" fill="#000" stroke="#000" stroke-width="0.5">2</text>
<line x1="482.4" y1="1544.4" x2="496.6" y2="1544.4" stroke="#000" stroke-width="3.5" stroke-linecap="butt"/>
<text transform="translate(475.9 1553.7) scale(0.95 1)" font-size="27.3" text-anchor="end" fill="#000" stroke="#000" stroke-width="0.5">0</text>
<line x1="542" y1="1544.4" x2="542" y2="1559.4" stroke="#000" stroke-width="3.5" stroke-linecap="butt"/>
<line x1="610.6" y1="1544.4" x2="610.6" y2="1559.4" stroke="#000" stroke-width="3.5" stroke-linecap="butt"/>
<line x1="679.4" y1="1544.4" x2="679.4" y2="1559.4" stroke="#000" stroke-width="3.5" stroke-linecap="butt"/>
<line x1="542" y1="1476.4" x2="542" y2="1488" stroke="#000" stroke-width="3.4" stroke-linecap="butt"/>
<line x1="530.85" y1="1476.4" x2="553.15" y2="1476.4" stroke="#000" stroke-width="3.4" stroke-linecap="round"/>
<line x1="530.85" y1="1488" x2="553.15" y2="1488" stroke="#000" stroke-width="3.4" stroke-linecap="round"/>
<line x1="610.6" y1="1402.4" x2="610.6" y2="1438" stroke="#0736F4" stroke-width="3.4" stroke-linecap="butt"/>
<line x1="599.45" y1="1402.4" x2="621.75" y2="1402.4" stroke="#0736F4" stroke-width="3.4" stroke-linecap="round"/>
<line x1="599.45" y1="1438" x2="621.75" y2="1438" stroke="#0736F4" stroke-width="3.4" stroke-linecap="round"/>
<line x1="679.4" y1="1503" x2="679.4" y2="1519" stroke="#BA8442" stroke-width="3.4" stroke-linecap="butt"/>
<line x1="668.25" y1="1503" x2="690.55" y2="1503" stroke="#BA8442" stroke-width="3.4" stroke-linecap="round"/>
<line x1="668.25" y1="1519" x2="690.55" y2="1519" stroke="#BA8442" stroke-width="3.4" stroke-linecap="round"/>
<circle cx="532" cy="1467.4" r="5.2" fill="#000"/>
<circle cx="552.4" cy="1468" r="5.2" fill="#000"/>
<circle cx="542.4" cy="1483" r="5.2" fill="#000"/>
<circle cx="532" cy="1497.4" r="5.2" fill="#000"/>
<circle cx="552.4" cy="1495.6" r="5.2" fill="#000"/>
<circle cx="611" cy="1288" r="5.2" fill="#0736F4"/>
<circle cx="611" cy="1335" r="5.2" fill="#0736F4"/>
<circle cx="593.4" cy="1396" r="5.2" fill="#0736F4"/>
<circle cx="611" cy="1400" r="5.2" fill="#0736F4"/>
<circle cx="593.4" cy="1416.6" r="5.2" fill="#0736F4"/>
<circle cx="611" cy="1422.5" r="5.2" fill="#0736F4"/>
<circle cx="611" cy="1438" r="5.2" fill="#0736F4"/>
<circle cx="593.4" cy="1452.4" r="5.2" fill="#0736F4"/>
<circle cx="611" cy="1450" r="5.2" fill="#0736F4"/>
<circle cx="629" cy="1455.6" r="5.2" fill="#0736F4"/>
<circle cx="611" cy="1483.6" r="5.2" fill="#0736F4"/>
<circle cx="611" cy="1510.4" r="5.2" fill="#0736F4"/>
<circle cx="667.9" cy="1480.6" r="5.2" fill="#BA8442"/>
<circle cx="679.9" cy="1480.3" r="5.2" fill="#BA8442"/>
<circle cx="691.4" cy="1480.3" r="5.2" fill="#BA8442"/>
<circle cx="673.9" cy="1497.2" r="5.2" fill="#BA8442"/>
<circle cx="673.9" cy="1508.5" r="5.2" fill="#BA8442"/>
<circle cx="685.7" cy="1505" r="5.2" fill="#BA8442"/>
<circle cx="673.4" cy="1535.6" r="5.2" fill="#BA8442"/>
<circle cx="685.4" cy="1537.6" r="5.2" fill="#BA8442"/>
<circle cx="697.4" cy="1536" r="5.2" fill="#BA8442"/>
<circle cx="661.4" cy="1544.4" r="5.2" fill="#BA8442"/>
<path d="M611 1268V1246.6H679.4V1460" fill="none" stroke="#000" stroke-width="3.4" stroke-linejoin="miter" stroke-linecap="round"/>
<text transform="translate(645.5 1228.6) scale(0.95 1)" font-size="29" text-anchor="middle" fill="#000" stroke="#000" stroke-width="0.5">P = 0.0005</text>
<text transform="translate(445 1373) rotate(-90) scale(0.95 1)" font-size="29" text-anchor="middle" fill="#000" stroke="#000" stroke-width="0.5">L-lactate (µmol/g)</text>
<text transform="translate(412 1185.5) scale(0.96 1)" font-size="50" text-anchor="start" fill="#262626" font-weight="bold">L</text>
<text transform="translate(543 1588.1) rotate(-45) scale(0.95 1)" font-size="27.3" text-anchor="end" fill="#000" stroke="#000" stroke-width="0.5">WT</text>
<text transform="translate(618.6 1582.9) rotate(-45) scale(0.95 1)" font-size="27.3" text-anchor="end" fill="#000" stroke="#000" stroke-width="0.5" font-style="italic">ob/ob</text>
<text transform="translate(687.4 1582.9) rotate(-45) scale(0.95 1)" font-size="27.3" text-anchor="end" fill="#000" stroke="#000" stroke-width="0.5"><tspan font-style="italic">ob/ob</tspan> + antibiotics</text>
<line x1="125.7" y1="1764" x2="708.8" y2="1764" stroke="#000" stroke-width="5.1" stroke-linecap="round"/>
<text transform="translate(418 1800.5) scale(0.99 1)" font-size="33" text-anchor="middle" fill="#222" stroke="#222" stroke-width="0.5">Cecum</text>
<path d="M938.25 1544.4V1454.65H979.95V1544.4" fill="none" stroke="#000" stroke-width="3.3" stroke-linejoin="miter"/>
<path d="M1006.65 1544.4V1410.25H1048.75V1544.4" fill="none" stroke="#F52A0A" stroke-width="3.3" stroke-linejoin="miter"/>
<path d="M1075.65 1544.4V1497.05H1117.35V1544.4" fill="none" stroke="#FA44FA" stroke-width="3.3" stroke-linejoin="miter"/>
<line x1="913.6" y1="1199.85" x2="913.6" y2="1546.15" stroke="#000" stroke-width="3.5" stroke-linecap="butt"/>
<line x1="899.4" y1="1544.4" x2="1142" y2="1544.4" stroke="#000" stroke-width="3.5" stroke-linecap="butt"/>
<line x1="899.4" y1="1201.6" x2="913.6" y2="1201.6" stroke="#000" stroke-width="3.5" stroke-linecap="butt"/>
<text transform="translate(892.9 1210.9) scale(0.95 1)" font-size="27.3" text-anchor="end" fill="#000" stroke="#000" stroke-width="0.5">1.5</text>
<line x1="899.4" y1="1315.87" x2="913.6" y2="1315.87" stroke="#000" stroke-width="3.5" stroke-linecap="butt"/>
<text transform="translate(892.9 1325.17) scale(0.95 1)" font-size="27.3" text-anchor="end" fill="#000" stroke="#000" stroke-width="0.5">1.0</text>
<line x1="899.4" y1="1430.13" x2="913.6" y2="1430.13" stroke="#000" stroke-width="3.5" stroke-linecap="butt"/>
<text transform="translate(892.9 1439.43) scale(0.95 1)" font-size="27.3" text-anchor="end" fill="#000" stroke="#000" stroke-width="0.5">0.5</text>
<line x1="899.4" y1="1544.4" x2="913.6" y2="1544.4" stroke="#000" stroke-width="3.5" stroke-linecap="butt"/>
<text transform="translate(892.9 1553.7) scale(0.95 1)" font-size="27.3" text-anchor="end" fill="#000" stroke="#000" stroke-width="0.5">0.0</text>
<line x1="959" y1="1544.4" x2="959" y2="1559.4" stroke="#000" stroke-width="3.5" stroke-linecap="butt"/>
<line x1="1027.4" y1="1544.4" x2="1027.4" y2="1559.4" stroke="#000" stroke-width="3.5" stroke-linecap="butt"/>
<line x1="1096" y1="1544.4" x2="1096" y2="1559.4" stroke="#000" stroke-width="3.5" stroke-linecap="butt"/>
<line x1="959" y1="1440" x2="959" y2="1467" stroke="#000" stroke-width="3.4" stroke-linecap="butt"/>
<line x1="947.85" y1="1440" x2="970.15" y2="1440" stroke="#000" stroke-width="3.4" stroke-linecap="round"/>
<line x1="947.85" y1="1467" x2="970.15" y2="1467" stroke="#000" stroke-width="3.4" stroke-linecap="round"/>
<line x1="1027.4" y1="1389" x2="1027.4" y2="1429.6" stroke="#F52A0A" stroke-width="3.4" stroke-linecap="butt"/>
<line x1="1016.25" y1="1389" x2="1038.55" y2="1389" stroke="#F52A0A" stroke-width="3.4" stroke-linecap="round"/>
<line x1="1016.25" y1="1429.6" x2="1038.55" y2="1429.6" stroke="#F52A0A" stroke-width="3.4" stroke-linecap="round"/>
<line x1="1096" y1="1482" x2="1096" y2="1508.6" stroke="#FA44FA" stroke-width="3.4" stroke-linecap="butt"/>
<line x1="1084.85" y1="1482" x2="1107.15" y2="1482" stroke="#FA44FA" stroke-width="3.4" stroke-linecap="round"/>
<line x1="1084.85" y1="1508.6" x2="1107.15" y2="1508.6" stroke="#FA44FA" stroke-width="3.4" stroke-linecap="round"/>
<circle cx="959.4" cy="1417.6" r="5.2" fill="#000"/>
<circle cx="949" cy="1447" r="5.2" fill="#000"/>
<circle cx="969" cy="1446.4" r="5.2" fill="#000"/>
<circle cx="959.4" cy="1459.4" r="5.2" fill="#000"/>
<circle cx="959.4" cy="1499" r="5.2" fill="#000"/>
<circle cx="1017.6" cy="1319.6" r="5.2" fill="#F52A0A"/>
<circle cx="1038" cy="1319.6" r="5.2" fill="#F52A0A"/>
<circle cx="1027.6" cy="1345.4" r="5.2" fill="#F52A0A"/>
<circle cx="1027.6" cy="1369.4" r="5.2" fill="#F52A0A"/>
<circle cx="1027.6" cy="1396" r="5.2" fill="#F52A0A"/>
<circle cx="1017.6" cy="1412" r="5.2" fill="#F52A0A"/>
<circle cx="1038" cy="1411.6" r="5.2" fill="#F52A0A"/>
<circle cx="1027.6" cy="1455.6" r="5.2" fill="#F52A0A"/>
<circle cx="1027.6" cy="1476.4" r="5.2" fill="#F52A0A"/>
<circle cx="1027.6" cy="1492.4" r="5.2" fill="#F52A0A"/>
<circle cx="1027.6" cy="1504" r="5.2" fill="#F52A0A"/>
<circle cx="1096.4" cy="1400.5" r="5.2" fill="#FA44FA"/>
<circle cx="1096.4" cy="1436.7" r="5.2" fill="#FA44FA"/>
<circle cx="1096.4" cy="1470" r="5.2" fill="#FA44FA"/>
<circle cx="1096.4" cy="1486.4" r="5.2" fill="#FA44FA"/>
<circle cx="1078" cy="1512.4" r="5.2" fill="#FA44FA"/>
<circle cx="1087.4" cy="1521" r="5.2" fill="#FA44FA"/>
<circle cx="1096.4" cy="1520.6" r="5.2" fill="#FA44FA"/>
<circle cx="1106" cy="1518" r="5.2" fill="#FA44FA"/>
<circle cx="1114.6" cy="1521.6" r="5.2" fill="#FA44FA"/>
<circle cx="1106" cy="1529" r="5.2" fill="#FA44FA"/>
<circle cx="1087.4" cy="1533" r="5.2" fill="#FA44FA"/>
<path d="M1027.6 1300.4V1279.4H1096V1380" fill="none" stroke="#000" stroke-width="3.4" stroke-linejoin="miter" stroke-linecap="round"/>
<text transform="translate(1062.3 1261) scale(0.95 1)" font-size="29" text-anchor="middle" fill="#000" stroke="#000" stroke-width="0.5">P = 0.0042</text>
<text transform="translate(839 1373) rotate(-90) scale(0.95 1)" font-size="29" text-anchor="middle" fill="#000" stroke="#000" stroke-width="0.5">D-lactate (µmol/g)</text>
<text transform="translate(805 1185.5) scale(0.96 1)" font-size="50" text-anchor="start" fill="#262626" font-weight="bold">M</text>
<text transform="translate(960 1588.1) rotate(-45) scale(0.95 1)" font-size="27.3" text-anchor="end" fill="#000" stroke="#000" stroke-width="0.5">WT</text>
<text transform="translate(1035.4 1582.9) rotate(-45) scale(0.95 1)" font-size="27.3" text-anchor="end" fill="#000" stroke="#000" stroke-width="0.5" font-style="italic">ob/ob</text>
<text transform="translate(1104 1582.9) rotate(-45) scale(0.95 1)" font-size="27.3" text-anchor="end" fill="#000" stroke="#000" stroke-width="0.5"><tspan font-style="italic">ob/ob</tspan> + antibiotics</text>
<path d="M1308.65 1544.4V1454.25H1350.35V1544.4" fill="none" stroke="#000" stroke-width="3.3" stroke-linejoin="miter"/>
<path d="M1377.05 1544.4V1402.85H1418.75V1544.4" fill="none" stroke="#0736F4" stroke-width="3.3" stroke-linejoin="miter"/>
<path d="M1445.65 1544.4V1503.25H1487.35V1544.4" fill="none" stroke="#BA8442" stroke-width="3.3" stroke-linejoin="miter"/>
<line x1="1283.6" y1="1199.85" x2="1283.6" y2="1546.15" stroke="#000" stroke-width="3.5" stroke-linecap="butt"/>
<line x1="1269.4" y1="1544.4" x2="1512" y2="1544.4" stroke="#000" stroke-width="3.5" stroke-linecap="butt"/>
<line x1="1269.4" y1="1201.6" x2="1283.6" y2="1201.6" stroke="#000" stroke-width="3.5" stroke-linecap="butt"/>
<text transform="translate(1262.9 1210.9) scale(0.95 1)" font-size="27.3" text-anchor="end" fill="#000" stroke="#000" stroke-width="0.5">1.5</text>
<line x1="1269.4" y1="1315.87" x2="1283.6" y2="1315.87" stroke="#000" stroke-width="3.5" stroke-linecap="butt"/>
<text transform="translate(1262.9 1325.17) scale(0.95 1)" font-size="27.3" text-anchor="end" fill="#000" stroke="#000" stroke-width="0.5">1.0</text>
<line x1="1269.4" y1="1430.13" x2="1283.6" y2="1430.13" stroke="#000" stroke-width="3.5" stroke-linecap="butt"/>
<text transform="translate(1262.9 1439.43) scale(0.95 1)" font-size="27.3" text-anchor="end" fill="#000" stroke="#000" stroke-width="0.5">0.5</text>
<line x1="1269.4" y1="1544.4" x2="1283.6" y2="1544.4" stroke="#000" stroke-width="3.5" stroke-linecap="butt"/>
<text transform="translate(1262.9 1553.7) scale(0.95 1)" font-size="27.3" text-anchor="end" fill="#000" stroke="#000" stroke-width="0.5">0.0</text>
<line x1="1329.4" y1="1544.4" x2="1329.4" y2="1559.4" stroke="#000" stroke-width="3.5" stroke-linecap="butt"/>
<line x1="1397.4" y1="1544.4" x2="1397.4" y2="1559.4" stroke="#000" stroke-width="3.5" stroke-linecap="butt"/>
<line x1="1466.4" y1="1544.4" x2="1466.4" y2="1559.4" stroke="#000" stroke-width="3.5" stroke-linecap="butt"/>
<line x1="1329.4" y1="1437.4" x2="1329.4" y2="1469" stroke="#000" stroke-width="3.4" stroke-linecap="butt"/>
<line x1="1318.25" y1="1437.4" x2="1340.55" y2="1437.4" stroke="#000" stroke-width="3.4" stroke-linecap="round"/>
<line x1="1318.25" y1="1469" x2="1340.55" y2="1469" stroke="#000" stroke-width="3.4" stroke-linecap="round"/>
<line x1="1397.4" y1="1378" x2="1397.4" y2="1424.6" stroke="#0736F4" stroke-width="3.4" stroke-linecap="butt"/>
<line x1="1386.25" y1="1378" x2="1408.55" y2="1378" stroke="#0736F4" stroke-width="3.4" stroke-linecap="round"/>
<line x1="1386.25" y1="1424.6" x2="1408.55" y2="1424.6" stroke="#0736F4" stroke-width="3.4" stroke-linecap="round"/>
<line x1="1466.4" y1="1486.4" x2="1466.4" y2="1516" stroke="#BA8442" stroke-width="3.4" stroke-linecap="butt"/>
<line x1="1455.25" y1="1486.4" x2="1477.55" y2="1486.4" stroke="#BA8442" stroke-width="3.4" stroke-linecap="round"/>
<line x1="1455.25" y1="1516" x2="1477.55" y2="1516" stroke="#BA8442" stroke-width="3.4" stroke-linecap="round"/>
<circle cx="1329.6" cy="1411" r="5.2" fill="#000"/>
<circle cx="1319.4" cy="1445.4" r="5.2" fill="#000"/>
<circle cx="1339.4" cy="1444.4" r="5.2" fill="#000"/>
<circle cx="1329.6" cy="1459.4" r="5.2" fill="#000"/>
<circle cx="1329.6" cy="1506.6" r="5.2" fill="#000"/>
<circle cx="1388" cy="1297.4" r="5.2" fill="#0736F4"/>
<circle cx="1408.6" cy="1297.4" r="5.2" fill="#0736F4"/>
<circle cx="1398" cy="1327" r="5.2" fill="#0736F4"/>
<circle cx="1398" cy="1355.4" r="5.2" fill="#0736F4"/>
<circle cx="1398" cy="1385.6" r="5.2" fill="#0736F4"/>
<circle cx="1388" cy="1405.6" r="5.2" fill="#0736F4"/>
<circle cx="1408.6" cy="1404" r="5.2" fill="#0736F4"/>
<circle cx="1398" cy="1456" r="5.2" fill="#0736F4"/>
<circle cx="1398" cy="1479.6" r="5.2" fill="#0736F4"/>
<circle cx="1398" cy="1498" r="5.2" fill="#0736F4"/>
<circle cx="1398" cy="1512" r="5.2" fill="#0736F4"/>
<circle cx="1466.4" cy="1390.6" r="5.2" fill="#BA8442"/>
<circle cx="1466.4" cy="1434" r="5.2" fill="#BA8442"/>
<circle cx="1466.4" cy="1472" r="5.2" fill="#BA8442"/>
<circle cx="1466.4" cy="1491.6" r="5.2" fill="#BA8442"/>
<circle cx="1466.4" cy="1522" r="5.2" fill="#BA8442"/>
<circle cx="1484" cy="1528" r="5.2" fill="#BA8442"/>
<circle cx="1457.4" cy="1531.4" r="5.2" fill="#BA8442"/>
<circle cx="1466.4" cy="1533.6" r="5.2" fill="#BA8442"/>
<circle cx="1476" cy="1532" r="5.2" fill="#BA8442"/>
<circle cx="1448.6" cy="1540.6" r="5.2" fill="#BA8442"/>
<circle cx="1484" cy="1542" r="5.2" fill="#BA8442"/>
<path d="M1397.6 1277.6V1256.4H1466.4V1371" fill="none" stroke="#000" stroke-width="3.4" stroke-linejoin="miter" stroke-linecap="round"/>
<text transform="translate(1432.3 1238) scale(0.95 1)" font-size="29" text-anchor="middle" fill="#000" stroke="#000" stroke-width="0.5">P = 0.0042</text>
<text transform="translate(1210 1373) rotate(-90) scale(0.95 1)" font-size="29" text-anchor="middle" fill="#000" stroke="#000" stroke-width="0.5">L-lactate (µmol/g)</text>
<text transform="translate(1184.3 1185.5) scale(0.96 1)" font-size="50" text-anchor="start" fill="#262626" font-weight="bold">N</text>
<text transform="translate(1330.4 1588.1) rotate(-45) scale(0.95 1)" font-size="27.3" text-anchor="end" fill="#000" stroke="#000" stroke-width="0.5">WT</text>
<text transform="translate(1405.4 1582.9) rotate(-45) scale(0.95 1)" font-size="27.3" text-anchor="end" fill="#000" stroke="#000" stroke-width="0.5" font-style="italic">ob/ob</text>
<text transform="translate(1474.4 1582.9) rotate(-45) scale(0.95 1)" font-size="27.3" text-anchor="end" fill="#000" stroke="#000" stroke-width="0.5"><tspan font-style="italic">ob/ob</tspan> + antibiotics</text>
<line x1="918" y1="1764" x2="1501" y2="1764" stroke="#000" stroke-width="5.1" stroke-linecap="round"/>
<text transform="translate(1213 1800.5) scale(0.99 1)" font-size="33" text-anchor="middle" fill="#222" stroke="#222" stroke-width="0.5">Feces</text>
<path d="M1686.05 1547.4V1402.65H1747.75V1547.4" fill="none" stroke="#F52A0A" stroke-width="3.3" stroke-linejoin="miter"/>
<path d="M1784.05 1547.4V1438.65H1845.75V1547.4" fill="none" stroke="#FA44FA" stroke-width="3.3" stroke-linejoin="miter"/>
<line x1="1651.4" y1="1202.25" x2="1651.4" y2="1549.15" stroke="#000" stroke-width="3.5" stroke-linecap="butt"/>
<line x1="1637.2" y1="1547.4" x2="1880" y2="1547.4" stroke="#000" stroke-width="3.5" stroke-linecap="butt"/>
<line x1="1637.2" y1="1204" x2="1651.4" y2="1204" stroke="#000" stroke-width="3.5" stroke-linecap="butt"/>
<text transform="translate(1630.7 1213.3) scale(0.95 1)" font-size="27.3" text-anchor="end" fill="#000" stroke="#000" stroke-width="0.5">0.6</text>
<line x1="1637.2" y1="1318.47" x2="1651.4" y2="1318.47" stroke="#000" stroke-width="3.5" stroke-linecap="butt"/>
<text transform="translate(1630.7 1327.77) scale(0.95 1)" font-size="27.3" text-anchor="end" fill="#000" stroke="#000" stroke-width="0.5">0.4</text>
<line x1="1637.2" y1="1432.93" x2="1651.4" y2="1432.93" stroke="#000" stroke-width="3.5" stroke-linecap="butt"/>
<text transform="translate(1630.7 1442.23) scale(0.95 1)" font-size="27.3" text-anchor="end" fill="#000" stroke="#000" stroke-width="0.5">0.2</text>
<line x1="1637.2" y1="1547.4" x2="1651.4" y2="1547.4" stroke="#000" stroke-width="3.5" stroke-linecap="butt"/>
<text transform="translate(1630.7 1556.7) scale(0.95 1)" font-size="27.3" text-anchor="end" fill="#000" stroke="#000" stroke-width="0.5">0.0</text>
<line x1="1717" y1="1547.4" x2="1717" y2="1561.4" stroke="#000" stroke-width="3.5" stroke-linecap="butt"/>
<line x1="1814.6" y1="1547.4" x2="1814.6" y2="1561.4" stroke="#000" stroke-width="3.5" stroke-linecap="butt"/>
<line x1="1717" y1="1386.6" x2="1717" y2="1413.8" stroke="#F52A0A" stroke-width="3.4" stroke-linecap="butt"/>
<line x1="1700.85" y1="1386.6" x2="1733.15" y2="1386.6" stroke="#F52A0A" stroke-width="3.4" stroke-linecap="round"/>
<line x1="1700.85" y1="1413.8" x2="1733.15" y2="1413.8" stroke="#F52A0A" stroke-width="3.4" stroke-linecap="round"/>
<line x1="1814.6" y1="1431.5" x2="1814.6" y2="1443.4" stroke="#FA44FA" stroke-width="3.4" stroke-linecap="butt"/>
<line x1="1798.45" y1="1431.5" x2="1830.75" y2="1431.5" stroke="#FA44FA" stroke-width="3.4" stroke-linecap="round"/>
<line x1="1798.45" y1="1443.4" x2="1830.75" y2="1443.4" stroke="#FA44FA" stroke-width="3.4" stroke-linecap="round"/>
<circle cx="1726.4" cy="1300.6" r="5.2" fill="#F52A0A"/>
<circle cx="1707.6" cy="1307.6" r="5.2" fill="#F52A0A"/>
<circle cx="1689.4" cy="1407" r="5.2" fill="#F52A0A"/>
<circle cx="1708" cy="1406.4" r="5.2" fill="#F52A0A"/>
<circle cx="1726.4" cy="1405" r="5.2" fill="#F52A0A"/>
<circle cx="1744" cy="1407" r="5.2" fill="#F52A0A"/>
<circle cx="1689.4" cy="1421.4" r="5.2" fill="#F52A0A"/>
<circle cx="1726.4" cy="1421" r="5.2" fill="#F52A0A"/>
<circle cx="1744" cy="1420" r="5.2" fill="#F52A0A"/>
<circle cx="1744" cy="1430" r="5.2" fill="#F52A0A"/>
<circle cx="1689.4" cy="1439" r="5.2" fill="#F52A0A"/>
<circle cx="1726.4" cy="1436.6" r="5.2" fill="#F52A0A"/>
<circle cx="1815" cy="1391.4" r="5.2" fill="#FA44FA"/>
<circle cx="1798.6" cy="1429.4" r="5.2" fill="#FA44FA"/>
<circle cx="1842.6" cy="1432.4" r="5.2" fill="#FA44FA"/>
<circle cx="1787.4" cy="1436.6" r="5.2" fill="#FA44FA"/>
<circle cx="1810" cy="1434" r="5.2" fill="#FA44FA"/>
<circle cx="1820" cy="1433.6" r="5.2" fill="#FA44FA"/>
<circle cx="1831" cy="1434.4" r="5.2" fill="#FA44FA"/>
<circle cx="1809.4" cy="1450.4" r="5.2" fill="#FA44FA"/>
<circle cx="1820.6" cy="1458" r="5.2" fill="#FA44FA"/>
<circle cx="1809.4" cy="1467.6" r="5.2" fill="#FA44FA"/>
<path d="M1717 1281V1260.4H1815V1372" fill="none" stroke="#000" stroke-width="3.4" stroke-linejoin="miter" stroke-linecap="round"/>
<text transform="translate(1766.3 1242) scale(0.95 1)" font-size="29" text-anchor="middle" fill="#000" stroke="#000" stroke-width="0.5">P = 0.0138</text>
<text transform="translate(1579 1375.7) rotate(-90) scale(0.95 1)" font-size="29" text-anchor="middle" fill="#000" stroke="#000" stroke-width="0.5">D-lactate (mmol/L)</text>
<text transform="translate(1555 1185.5) scale(0.96 1)" font-size="50" text-anchor="start" fill="#262626" font-weight="bold">O</text>
<text transform="translate(1725 1585.9) rotate(-45) scale(0.95 1)" font-size="27.3" text-anchor="end" fill="#000" stroke="#000" stroke-width="0.5" font-style="italic">ob/ob</text>
<text transform="translate(1822.6 1585.9) rotate(-45) scale(0.95 1)" font-size="27.3" text-anchor="end" fill="#000" stroke="#000" stroke-width="0.5"><tspan font-style="italic">ob/ob</tspan> + antibiotics</text>
<path d="M2040.65 1547.4V1356.65H2101.95V1547.4" fill="none" stroke="#0736F4" stroke-width="3.3" stroke-linejoin="miter"/>
<path d="M2138.65 1547.4V1359.65H2199.75V1547.4" fill="none" stroke="#BA8442" stroke-width="3.3" stroke-linejoin="miter"/>
<line x1="2006" y1="1202.25" x2="2006" y2="1549.15" stroke="#000" stroke-width="3.5" stroke-linecap="butt"/>
<line x1="1991.8" y1="1547.4" x2="2235" y2="1547.4" stroke="#000" stroke-width="3.5" stroke-linecap="butt"/>
<line x1="1991.8" y1="1204" x2="2006" y2="1204" stroke="#000" stroke-width="3.5" stroke-linecap="butt"/>
<text transform="translate(1985.3 1213.3) scale(0.95 1)" font-size="27.3" text-anchor="end" fill="#000" stroke="#000" stroke-width="0.5">20</text>
<line x1="1991.8" y1="1289.85" x2="2006" y2="1289.85" stroke="#000" stroke-width="3.5" stroke-linecap="butt"/>
<text transform="translate(1985.3 1299.15) scale(0.95 1)" font-size="27.3" text-anchor="end" fill="#000" stroke="#000" stroke-width="0.5">15</text>
<line x1="1991.8" y1="1375.7" x2="2006" y2="1375.7" stroke="#000" stroke-width="3.5" stroke-linecap="butt"/>
<text transform="translate(1985.3 1385) scale(0.95 1)" font-size="27.3" text-anchor="end" fill="#000" stroke="#000" stroke-width="0.5">10</text>
<line x1="1991.8" y1="1461.55" x2="2006" y2="1461.55" stroke="#000" stroke-width="3.5" stroke-linecap="butt"/>
<text transform="translate(1985.3 1470.85) scale(0.95 1)" font-size="27.3" text-anchor="end" fill="#000" stroke="#000" stroke-width="0.5">5</text>
<line x1="1991.8" y1="1547.4" x2="2006" y2="1547.4" stroke="#000" stroke-width="3.5" stroke-linecap="butt"/>
<text transform="translate(1985.3 1556.7) scale(0.95 1)" font-size="27.3" text-anchor="end" fill="#000" stroke="#000" stroke-width="0.5">0</text>
<line x1="2071" y1="1547.4" x2="2071" y2="1561.4" stroke="#000" stroke-width="3.5" stroke-linecap="butt"/>
<line x1="2168.6" y1="1547.4" x2="2168.6" y2="1561.4" stroke="#000" stroke-width="3.5" stroke-linecap="butt"/>
<line x1="2071.6" y1="1342" x2="2071.6" y2="1366.6" stroke="#0736F4" stroke-width="3.4" stroke-linecap="butt"/>
<line x1="2055.45" y1="1342" x2="2087.75" y2="1342" stroke="#0736F4" stroke-width="3.4" stroke-linecap="round"/>
<line x1="2055.45" y1="1366.6" x2="2087.75" y2="1366.6" stroke="#0736F4" stroke-width="3.4" stroke-linecap="round"/>
<line x1="2169.4" y1="1344" x2="2169.4" y2="1370.6" stroke="#BA8442" stroke-width="3.4" stroke-linecap="butt"/>
<line x1="2153.25" y1="1344" x2="2185.55" y2="1344" stroke="#BA8442" stroke-width="3.4" stroke-linecap="round"/>
<line x1="2153.25" y1="1370.6" x2="2185.55" y2="1370.6" stroke="#BA8442" stroke-width="3.4" stroke-linecap="round"/>
<circle cx="2071.6" cy="1267" r="5.2" fill="#0736F4"/>
<circle cx="2071.6" cy="1283.4" r="5.2" fill="#0736F4"/>
<circle cx="2071.6" cy="1343" r="5.2" fill="#0736F4"/>
<circle cx="2092" cy="1347.4" r="5.2" fill="#0736F4"/>
<circle cx="2051" cy="1351" r="5.2" fill="#0736F4"/>
<circle cx="2071.6" cy="1356" r="5.2" fill="#0736F4"/>
<circle cx="2051" cy="1367.4" r="5.2" fill="#0736F4"/>
<circle cx="2071.6" cy="1370" r="5.2" fill="#0736F4"/>
<circle cx="2092" cy="1366" r="5.2" fill="#0736F4"/>
<circle cx="2071.6" cy="1388.6" r="5.2" fill="#0736F4"/>
<circle cx="2082" cy="1403" r="5.2" fill="#0736F4"/>
<circle cx="2061" cy="1410" r="5.2" fill="#0736F4"/>
<circle cx="2148.6" cy="1300" r="5.2" fill="#BA8442"/>
<circle cx="2169.4" cy="1308.6" r="5.2" fill="#BA8442"/>
<circle cx="2169.4" cy="1319" r="5.2" fill="#BA8442"/>
<circle cx="2190" cy="1318" r="5.2" fill="#BA8442"/>
<circle cx="2190" cy="1348" r="5.2" fill="#BA8442"/>
<circle cx="2169.4" cy="1351" r="5.2" fill="#BA8442"/>
<circle cx="2159" cy="1376" r="5.2" fill="#BA8442"/>
<circle cx="2179.6" cy="1377" r="5.2" fill="#BA8442"/>
<circle cx="2169.4" cy="1393.4" r="5.2" fill="#BA8442"/>
<circle cx="2159" cy="1422.4" r="5.2" fill="#BA8442"/>
<circle cx="2179.6" cy="1421" r="5.2" fill="#BA8442"/>
<text transform="translate(1940 1375.7) rotate(-90) scale(0.95 1)" font-size="29" text-anchor="middle" fill="#000" stroke="#000" stroke-width="0.5">L-lactate (mmol/L)</text>
<text transform="translate(1911 1185.5) scale(0.96 1)" font-size="50" text-anchor="start" fill="#262626" font-weight="bold">P</text>
<text transform="translate(2079 1585.9) rotate(-45) scale(0.95 1)" font-size="27.3" text-anchor="end" fill="#000" stroke="#000" stroke-width="0.5" font-style="italic">ob/ob</text>
<text transform="translate(2176.6 1585.9) rotate(-45) scale(0.95 1)" font-size="27.3" text-anchor="end" fill="#000" stroke="#000" stroke-width="0.5"><tspan font-style="italic">ob/ob</tspan> + antibiotics</text>
<line x1="1647" y1="1762" x2="2229.7" y2="1762" stroke="#000" stroke-width="5.1" stroke-linecap="round"/>
<text transform="translate(1942 1797.8) scale(0.99 1)" font-size="33" text-anchor="middle" fill="#222" stroke="#222" stroke-width="0.5">Systemic</text>
<path d="M2403.6 1544.4V1327.6H2463.8V1544.4" fill="none" stroke="#F52A0A" stroke-width="5.2" stroke-linejoin="miter"/>
<path d="M2501.6 1544.4V1370.6H2561.8V1544.4" fill="none" stroke="#0E989A" stroke-width="5.2" stroke-linejoin="miter"/>
<line x1="2369" y1="1199.85" x2="2369" y2="1546.15" stroke="#000" stroke-width="3.5" stroke-linecap="butt"/>
<line x1="2354.8" y1="1544.4" x2="2597" y2="1544.4" stroke="#000" stroke-width="3.5" stroke-linecap="butt"/>
<line x1="2354.8" y1="1201.6" x2="2369" y2="1201.6" stroke="#000" stroke-width="3.5" stroke-linecap="butt"/>
<text transform="translate(2348.3 1210.9) scale(0.95 1)" font-size="27.3" text-anchor="end" fill="#000" stroke="#000" stroke-width="0.5">25</text>
<line x1="2354.8" y1="1270.16" x2="2369" y2="1270.16" stroke="#000" stroke-width="3.5" stroke-linecap="butt"/>
<text transform="translate(2348.3 1279.46) scale(0.95 1)" font-size="27.3" text-anchor="end" fill="#000" stroke="#000" stroke-width="0.5">20</text>
<line x1="2354.8" y1="1338.72" x2="2369" y2="1338.72" stroke="#000" stroke-width="3.5" stroke-linecap="butt"/>
<text transform="translate(2348.3 1348.02) scale(0.95 1)" font-size="27.3" text-anchor="end" fill="#000" stroke="#000" stroke-width="0.5">15</text>
<line x1="2354.8" y1="1407.28" x2="2369" y2="1407.28" stroke="#000" stroke-width="3.5" stroke-linecap="butt"/>
<text transform="translate(2348.3 1416.58) scale(0.95 1)" font-size="27.3" text-anchor="end" fill="#000" stroke="#000" stroke-width="0.5">10</text>
<line x1="2354.8" y1="1475.84" x2="2369" y2="1475.84" stroke="#000" stroke-width="3.5" stroke-linecap="butt"/>
<text transform="translate(2348.3 1485.14) scale(0.95 1)" font-size="27.3" text-anchor="end" fill="#000" stroke="#000" stroke-width="0.5">5</text>
<line x1="2354.8" y1="1544.4" x2="2369" y2="1544.4" stroke="#000" stroke-width="3.5" stroke-linecap="butt"/>
<text transform="translate(2348.3 1553.7) scale(0.95 1)" font-size="27.3" text-anchor="end" fill="#000" stroke="#000" stroke-width="0.5">0</text>
<line x1="2433" y1="1544.4" x2="2433" y2="1559.4" stroke="#000" stroke-width="3.5" stroke-linecap="butt"/>
<line x1="2531.4" y1="1544.4" x2="2531.4" y2="1559.4" stroke="#000" stroke-width="3.5" stroke-linecap="butt"/>
<line x1="2433.4" y1="1308" x2="2433.4" y2="1340" stroke="#F52A0A" stroke-width="1.9" stroke-linecap="butt"/>
<line x1="2417.25" y1="1308" x2="2449.55" y2="1308" stroke="#F52A0A" stroke-width="1.9" stroke-linecap="round"/>
<line x1="2417.25" y1="1340" x2="2449.55" y2="1340" stroke="#F52A0A" stroke-width="1.9" stroke-linecap="round"/>
<line x1="2531.6" y1="1359.4" x2="2531.6" y2="1375" stroke="#0E989A" stroke-width="1.9" stroke-linecap="butt"/>
<line x1="2515.45" y1="1359.4" x2="2547.75" y2="1359.4" stroke="#0E989A" stroke-width="1.9" stroke-linecap="round"/>
<line x1="2515.45" y1="1375" x2="2547.75" y2="1375" stroke="#0E989A" stroke-width="1.9" stroke-linecap="round"/>
<circle cx="2433.4" cy="1262" r="5.2" fill="#F52A0A"/>
<circle cx="2454.4" cy="1272.6" r="5.2" fill="#F52A0A"/>
<circle cx="2433.4" cy="1277.4" r="5.2" fill="#F52A0A"/>
<circle cx="2412.6" cy="1281" r="5.2" fill="#F52A0A"/>
<circle cx="2433.4" cy="1293.4" r="5.2" fill="#F52A0A"/>
<circle cx="2412.6" cy="1322.6" r="5.2" fill="#F52A0A"/>
<circle cx="2433.4" cy="1333.4" r="5.2" fill="#F52A0A"/>
<circle cx="2454.4" cy="1355.4" r="5.2" fill="#F52A0A"/>
<circle cx="2433.4" cy="1363" r="5.2" fill="#F52A0A"/>
<circle cx="2433.4" cy="1393.6" r="5.2" fill="#F52A0A"/>
<circle cx="2433.4" cy="1417.3" r="5.2" fill="#F52A0A"/>
<circle cx="2531.6" cy="1326" r="5.2" fill="#0E989A"/>
<circle cx="2531.6" cy="1338" r="5.2" fill="#0E989A"/>
<circle cx="2521" cy="1351.6" r="5.2" fill="#0E989A"/>
<circle cx="2541.6" cy="1349.4" r="5.2" fill="#0E989A"/>
<circle cx="2541.6" cy="1363" r="5.2" fill="#0E989A"/>
<circle cx="2521" cy="1373" r="5.2" fill="#0E989A"/>
<circle cx="2541.6" cy="1380.6" r="5.2" fill="#0E989A"/>
<circle cx="2521" cy="1386.6" r="5.2" fill="#0E989A"/>
<circle cx="2541.6" cy="1393.6" r="5.2" fill="#0E989A"/>
<circle cx="2531.6" cy="1406.6" r="5.2" fill="#0E989A"/>
<path d="M2433.4 1242.4V1221.6H2531.6V1306.4" fill="none" stroke="#000" stroke-width="3.4" stroke-linejoin="miter" stroke-linecap="round"/>
<text transform="translate(2482.5 1203) scale(0.95 1)" font-size="29" text-anchor="middle" fill="#000" stroke="#000" stroke-width="0.5">P = 0.0292</text>
<text transform="translate(2303 1373) rotate(-90) scale(0.95 1)" font-size="29" text-anchor="middle" fill="#000" stroke="#000" stroke-width="0.5">Blood glucose (mmol/L)</text>
<text transform="translate(2269 1185) scale(0.96 1)" font-size="50" text-anchor="start" fill="#262626" font-weight="bold">O</text>
<line x1="2289.8" y1="1174" x2="2301.8" y2="1185.2" stroke="#262626" stroke-width="7.2" stroke-linecap="butt"/>
<text transform="translate(2441 1582.9) rotate(-45) scale(0.95 1)" font-size="27.3" text-anchor="end" fill="#000" stroke="#000" stroke-width="0.5" font-style="italic">ob/ob</text>
<text transform="translate(2539.4 1582.9) rotate(-45) scale(0.95 1)" font-size="27.3" text-anchor="end" fill="#000" stroke="#000" stroke-width="0.5"><tspan font-style="italic">ob/ob</tspan> + antibiotics</text>
</g>
</svg>
</body></html>
